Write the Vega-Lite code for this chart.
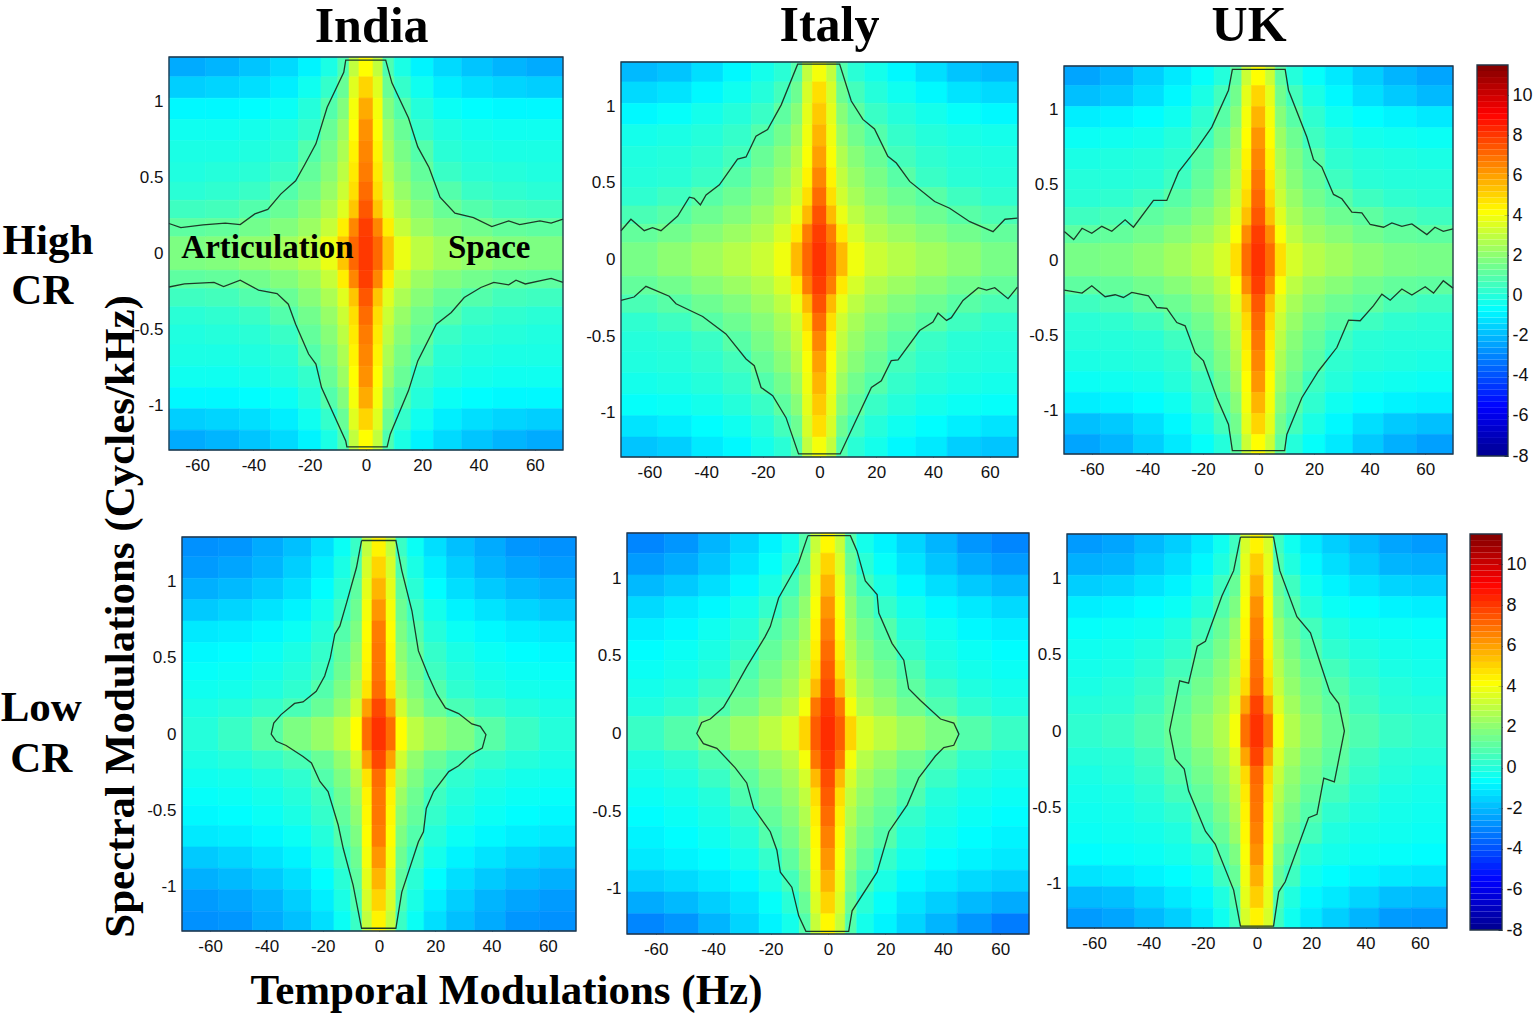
{
"$schema":"https://vega.github.io/schema/vega-lite/v6.json",
"width":1535,"height":1017,"padding":0,"autosize":"none","background":"white",
"config":{"view":{"stroke":null},"axis":{"grid":false,"labelFont":"Liberation Sans","labelFontSize":17,"labelColor":"#111111","tickColor":"#223344","domain":false,"tickSize":-4}},
"datasets":{
"xb":[{"i":0,"x0":-70,"x1":-57},{"i":1,"x0":-57,"x1":-45},{"i":2,"x0":-45,"x1":-34},{"i":3,"x0":-34,"x1":-24},{"i":4,"x0":-24,"x1":-16},{"i":5,"x0":-16,"x1":-10},{"i":6,"x0":-10,"x1":-6},{"i":7,"x0":-6,"x1":-2.5},{"i":8,"x0":-2.5,"x1":2.5},{"i":9,"x0":2.5,"x1":6},{"i":10,"x0":6,"x1":10},{"i":11,"x0":10,"x1":16},{"i":12,"x0":16,"x1":24},{"i":13,"x0":24,"x1":34},{"i":14,"x0":34,"x1":45},{"i":15,"x0":45,"x1":57},{"i":16,"x0":57,"x1":70}],
"yb":[{"j":0,"y0":1.16,"y1":1.29},{"j":1,"y0":1.02,"y1":1.16},{"j":2,"y0":0.88,"y1":1.02},{"j":3,"y0":0.74,"y1":0.88},{"j":4,"y0":0.6,"y1":0.74},{"j":5,"y0":0.47,"y1":0.6},{"j":6,"y0":0.35,"y1":0.47},{"j":7,"y0":0.23,"y1":0.35},{"j":8,"y0":0.11,"y1":0.23},{"j":9,"y0":-0.11,"y1":0.11},{"j":10,"y0":-0.23,"y1":-0.11},{"j":11,"y0":-0.35,"y1":-0.23},{"j":12,"y0":-0.47,"y1":-0.35},{"j":13,"y0":-0.6,"y1":-0.47},{"j":14,"y0":-0.74,"y1":-0.6},{"j":15,"y0":-0.88,"y1":-0.74},{"j":16,"y0":-1.02,"y1":-0.88},{"j":17,"y0":-1.16,"y1":-1.02},{"j":18,"y0":-1.29,"y1":-1.16}],
"fr":[{"x0":-70,"x1":70,"y0":-1.29,"y1":1.29}],
"cf":[{"x0":0,"x1":1,"a":-8,"b":11.5}],
"cb":[{"a":-8,"b":-7.7,"v":-7.85},{"a":-7.7,"b":-7.4,"v":-7.55},{"a":-7.4,"b":-7.1,"v":-7.25},{"a":-7.1,"b":-6.8,"v":-6.95},{"a":-6.8,"b":-6.5,"v":-6.65},{"a":-6.5,"b":-6.2,"v":-6.35},{"a":-6.2,"b":-5.9,"v":-6.05},{"a":-5.9,"b":-5.6,"v":-5.75},{"a":-5.6,"b":-5.3,"v":-5.45},{"a":-5.3,"b":-5,"v":-5.15},{"a":-5,"b":-4.7,"v":-4.85},{"a":-4.7,"b":-4.4,"v":-4.55},{"a":-4.4,"b":-4.1,"v":-4.25},{"a":-4.1,"b":-3.8,"v":-3.95},{"a":-3.8,"b":-3.5,"v":-3.65},{"a":-3.5,"b":-3.2,"v":-3.35},{"a":-3.2,"b":-2.9,"v":-3.05},{"a":-2.9,"b":-2.6,"v":-2.75},{"a":-2.6,"b":-2.3,"v":-2.45},{"a":-2.3,"b":-2,"v":-2.15},{"a":-2,"b":-1.7,"v":-1.85},{"a":-1.7,"b":-1.4,"v":-1.55},{"a":-1.4,"b":-1.1,"v":-1.25},{"a":-1.1,"b":-0.8,"v":-0.95},{"a":-0.8,"b":-0.5,"v":-0.65},{"a":-0.5,"b":-0.2,"v":-0.35},{"a":-0.2,"b":0.1,"v":-0.05},{"a":0.1,"b":0.4,"v":0.25},{"a":0.4,"b":0.7,"v":0.55},{"a":0.7,"b":1,"v":0.85},{"a":1,"b":1.3,"v":1.15},{"a":1.3,"b":1.6,"v":1.45},{"a":1.6,"b":1.9,"v":1.75},{"a":1.9,"b":2.2,"v":2.05},{"a":2.2,"b":2.5,"v":2.35},{"a":2.5,"b":2.8,"v":2.65},{"a":2.8,"b":3.1,"v":2.95},{"a":3.1,"b":3.4,"v":3.25},{"a":3.4,"b":3.7,"v":3.55},{"a":3.7,"b":4,"v":3.85},{"a":4,"b":4.3,"v":4.15},{"a":4.3,"b":4.6,"v":4.45},{"a":4.6,"b":4.9,"v":4.75},{"a":4.9,"b":5.2,"v":5.05},{"a":5.2,"b":5.5,"v":5.35},{"a":5.5,"b":5.8,"v":5.65},{"a":5.8,"b":6.1,"v":5.95},{"a":6.1,"b":6.4,"v":6.25},{"a":6.4,"b":6.7,"v":6.55},{"a":6.7,"b":7,"v":6.85},{"a":7,"b":7.3,"v":7.15},{"a":7.3,"b":7.6,"v":7.45},{"a":7.6,"b":7.9,"v":7.75},{"a":7.9,"b":8.2,"v":8.05},{"a":8.2,"b":8.5,"v":8.35},{"a":8.5,"b":8.8,"v":8.65},{"a":8.8,"b":9.1,"v":8.95},{"a":9.1,"b":9.4,"v":9.25},{"a":9.4,"b":9.7,"v":9.55},{"a":9.7,"b":10,"v":9.85},{"a":10,"b":10.3,"v":10.15},{"a":10.3,"b":10.6,"v":10.45},{"a":10.6,"b":10.9,"v":10.75},{"a":10.9,"b":11.2,"v":11.05},{"a":11.2,"b":11.5,"v":11.35}],
"la":[{"k":0,"x":-70,"y":0.197},{"k":0,"x":-65.8,"y":0.17},{"k":0,"x":-57.9,"y":0.188},{"k":0,"x":-50,"y":0.2},{"k":0,"x":-44.7,"y":0.19},{"k":0,"x":-39.5,"y":0.26},{"k":0,"x":-34.9,"y":0.29},{"k":0,"x":-30.3,"y":0.39},{"k":0,"x":-25,"y":0.477},{"k":0,"x":-21.7,"y":0.586},{"k":0,"x":-17.8,"y":0.72},{"k":0,"x":-13.8,"y":0.96},{"k":0,"x":-7.9,"y":1.19},{"k":0,"x":-7.2,"y":1.27},{"k":0,"x":7,"y":1.27},{"k":0,"x":9.2,"y":1.12},{"k":0,"x":15.1,"y":0.89},{"k":0,"x":18.4,"y":0.7},{"k":0,"x":22.4,"y":0.565},{"k":0,"x":26.3,"y":0.37},{"k":0,"x":31.6,"y":0.265},{"k":0,"x":38.2,"y":0.236},{"k":0,"x":44.7,"y":0.177},{"k":0,"x":50.7,"y":0.214},{"k":0,"x":54.6,"y":0.19},{"k":0,"x":61.8,"y":0.214},{"k":0,"x":65.8,"y":0.2},{"k":0,"x":70,"y":0.225},
{"k":1,"x":-70,"y":-0.22},{"k":1,"x":-64.5,"y":-0.2},{"k":1,"x":-54,"y":-0.19},{"k":1,"x":-50.6,"y":-0.217},{"k":1,"x":-44.7,"y":-0.175},{"k":1,"x":-38.2,"y":-0.24},{"k":1,"x":-31.6,"y":-0.263},{"k":1,"x":-27.6,"y":-0.333},{"k":1,"x":-25,"y":-0.464},{"k":1,"x":-20.4,"y":-0.66},{"k":1,"x":-17.8,"y":-0.726},{"k":1,"x":-15.8,"y":-0.88},{"k":1,"x":-7.2,"y":-1.23},{"k":1,"x":-6.8,"y":-1.27},{"k":1,"x":7.5,"y":-1.27},{"k":1,"x":8.6,"y":-1.186},{"k":1,"x":15.1,"y":-0.9},{"k":1,"x":18.4,"y":-0.705},{"k":1,"x":25,"y":-0.464},{"k":1,"x":30.3,"y":-0.387},{"k":1,"x":34.9,"y":-0.289},{"k":1,"x":40.8,"y":-0.223},{"k":1,"x":45.4,"y":-0.19},{"k":1,"x":50.7,"y":-0.206},{"k":1,"x":53.3,"y":-0.175},{"k":1,"x":56.6,"y":-0.2},{"k":1,"x":65.8,"y":-0.164},{"k":1,"x":70,"y":-0.19}],
"lb":[{"k":0,"x":-70,"y":0.188},{"k":0,"x":-66.5,"y":0.263},{"k":0,"x":-61.8,"y":0.188},{"k":0,"x":-58.9,"y":0.208},{"k":0,"x":-55.9,"y":0.188},{"k":0,"x":-50,"y":0.284},{"k":0,"x":-45.9,"y":0.407},{"k":0,"x":-44.2,"y":0.4},{"k":0,"x":-42,"y":0.357},{"k":0,"x":-40,"y":0.422},{"k":0,"x":-35.3,"y":0.488},{"k":0,"x":-28.9,"y":0.656},{"k":0,"x":-25.9,"y":0.67},{"k":0,"x":-22.4,"y":0.805},{"k":0,"x":-18.3,"y":0.849},{"k":0,"x":-13.5,"y":1.01},{"k":0,"x":-7.7,"y":1.276},{"k":0,"x":7.1,"y":1.276},{"k":0,"x":11.2,"y":1.035},{"k":0,"x":15.3,"y":0.915},{"k":0,"x":19.4,"y":0.853},{"k":0,"x":24.1,"y":0.674},{"k":0,"x":27.1,"y":0.63},{"k":0,"x":31.8,"y":0.51},{"k":0,"x":40.6,"y":0.379},{"k":0,"x":45.9,"y":0.335},{"k":0,"x":53,"y":0.247},{"k":0,"x":61.2,"y":0.182},{"k":0,"x":65.4,"y":0.263},{"k":0,"x":69.8,"y":0.27},
{"k":1,"x":-70,"y":-0.267},{"k":1,"x":-65.4,"y":-0.245},{"k":1,"x":-61.2,"y":-0.175},{"k":1,"x":-53,"y":-0.24},{"k":1,"x":-50.6,"y":-0.289},{"k":1,"x":-41.2,"y":-0.372},{"k":1,"x":-33,"y":-0.486},{"k":1,"x":-25.9,"y":-0.65},{"k":1,"x":-23,"y":-0.694},{"k":1,"x":-20.6,"y":-0.836},{"k":1,"x":-16.5,"y":-0.89},{"k":1,"x":-11.8,"y":-1.033},{"k":1,"x":-7.4,"y":-1.27},{"k":1,"x":7.3,"y":-1.27},{"k":1,"x":18.3,"y":-0.836},{"k":1,"x":21.8,"y":-0.792},{"k":1,"x":25.3,"y":-0.661},{"k":1,"x":27.7,"y":-0.656},{"k":1,"x":35.3,"y":-0.464},{"k":1,"x":40,"y":-0.409},{"k":1,"x":41.8,"y":-0.35},{"k":1,"x":44.8,"y":-0.398},{"k":1,"x":46.5,"y":-0.38},{"k":1,"x":50.6,"y":-0.267},{"k":1,"x":56,"y":-0.184},{"k":1,"x":58.9,"y":-0.2},{"k":1,"x":61.8,"y":-0.184},{"k":1,"x":66.5,"y":-0.256},{"k":1,"x":69.8,"y":-0.18}],
"lc":[{"k":0,"x":-69.9,"y":0.189},{"k":0,"x":-66.5,"y":0.136},{"k":0,"x":-63.5,"y":0.211},{"k":0,"x":-60,"y":0.178},{"k":0,"x":-56.4,"y":0.224},{"k":0,"x":-52.8,"y":0.191},{"k":0,"x":-48,"y":0.267},{"k":0,"x":-45,"y":0.218},{"k":0,"x":-37.8,"y":0.396},{"k":0,"x":-33,"y":0.396},{"k":0,"x":-28.8,"y":0.584},{"k":0,"x":-22.2,"y":0.74},{"k":0,"x":-16.8,"y":0.884},{"k":0,"x":-10.8,"y":1.129},{"k":0,"x":-9.4,"y":1.267},{"k":0,"x":9.6,"y":1.267},{"k":0,"x":10.8,"y":1.129},{"k":0,"x":17.4,"y":0.818},{"k":0,"x":19.8,"y":0.667},{"k":0,"x":22.8,"y":0.618},{"k":0,"x":27,"y":0.436},{"k":0,"x":30,"y":0.407},{"k":0,"x":33.6,"y":0.318},{"k":0,"x":37.2,"y":0.313},{"k":0,"x":40.2,"y":0.236},{"k":0,"x":45,"y":0.218},{"k":0,"x":48,"y":0.247},{"k":0,"x":51.6,"y":0.224},{"k":0,"x":55.2,"y":0.24},{"k":0,"x":60.6,"y":0.169},{"k":0,"x":63.5,"y":0.218},{"k":0,"x":66.5,"y":0.191},{"k":0,"x":70,"y":0.207},
{"k":1,"x":-69.9,"y":-0.2},{"k":1,"x":-63.5,"y":-0.22},{"k":1,"x":-60,"y":-0.171},{"k":1,"x":-55.2,"y":-0.244},{"k":1,"x":-51.6,"y":-0.231},{"k":1,"x":-48.6,"y":-0.249},{"k":1,"x":-45.6,"y":-0.216},{"k":1,"x":-39.6,"y":-0.238},{"k":1,"x":-36.6,"y":-0.316},{"k":1,"x":-33,"y":-0.322},{"k":1,"x":-29.4,"y":-0.416},{"k":1,"x":-26.4,"y":-0.438},{"k":1,"x":-22.8,"y":-0.616},{"k":1,"x":-19.8,"y":-0.671},{"k":1,"x":-15,"y":-0.916},{"k":1,"x":-10.8,"y":-1.093},{"k":1,"x":-9.4,"y":-1.267},{"k":1,"x":9.4,"y":-1.267},{"k":1,"x":10.2,"y":-1.16},{"k":1,"x":15.6,"y":-0.916},{"k":1,"x":21.6,"y":-0.738},{"k":1,"x":28.2,"y":-0.582},{"k":1,"x":32.4,"y":-0.4},{"k":1,"x":36.6,"y":-0.404},{"k":1,"x":41.4,"y":-0.304},{"k":1,"x":44.4,"y":-0.227},{"k":1,"x":47.4,"y":-0.267},{"k":1,"x":51.6,"y":-0.193},{"k":1,"x":55.2,"y":-0.233},{"k":1,"x":60,"y":-0.178},{"k":1,"x":63,"y":-0.22},{"k":1,"x":66.5,"y":-0.138},{"k":1,"x":70,"y":-0.187}],
"ld":[{"x":-6.2,"y":1.267},{"x":-8,"y":1.09},{"x":-11.5,"y":0.86},{"x":-13.9,"y":0.708},{"x":-15.7,"y":0.654},{"x":-17.3,"y":0.5},{"x":-19.3,"y":0.38},{"x":-22.3,"y":0.28},{"x":-27,"y":0.21},{"x":-30,"y":0.2},{"x":-34.8,"y":0.127},{"x":-37.4,"y":0.072},{"x":-38.3,"y":0},{"x":-36.5,"y":-0.048},{"x":-33,"y":-0.075},{"x":-27,"y":-0.147},{"x":-24,"y":-0.19},{"x":-21,"y":-0.311},{"x":-18.1,"y":-0.377},{"x":-14.5,"y":-0.596},{"x":-12.7,"y":-0.75},{"x":-9.2,"y":-0.99},{"x":-6.2,"y":-1.272},{"x":6,"y":-1.272},{"x":8.1,"y":-1.035},{"x":14,"y":-0.706},{"x":15.8,"y":-0.64},{"x":16.8,"y":-0.487},{"x":19.4,"y":-0.377},{"x":24.8,"y":-0.246},{"x":28.3,"y":-0.208},{"x":32.5,"y":-0.136},{"x":36.7,"y":-0.092},{"x":38,"y":-0.004},{"x":36,"y":0.05},{"x":33,"y":0.066},{"x":28.3,"y":0.134},{"x":23.6,"y":0.171},{"x":20.6,"y":0.259},{"x":17.6,"y":0.38},{"x":14,"y":0.544},{"x":11.7,"y":0.807},{"x":8.1,"y":1.07},{"x":6,"y":1.267},{"x":-6.2,"y":1.267}],
"le":[{"x":-7,"y":1.273},{"x":-10.2,"y":1.1},{"x":-17.2,"y":0.872},{"x":-20.1,"y":0.688},{"x":-21.9,"y":0.623},{"x":-28.3,"y":0.429},{"x":-32.9,"y":0.277},{"x":-36.4,"y":0.169},{"x":-41,"y":0.093},{"x":-44,"y":0.071},{"x":-45.7,"y":0},{"x":-43.4,"y":-0.065},{"x":-38.7,"y":-0.095},{"x":-32.3,"y":-0.221},{"x":-28.3,"y":-0.318},{"x":-25.9,"y":-0.481},{"x":-20.1,"y":-0.632},{"x":-17.8,"y":-0.751},{"x":-16.6,"y":-0.892},{"x":-12.6,"y":-0.989},{"x":-10.2,"y":-1.173},{"x":-7.7,"y":-1.273},{"x":7.2,"y":-1.273},{"x":8.4,"y":-1.141},{"x":17.1,"y":-0.892},{"x":21.2,"y":-0.632},{"x":27.6,"y":-0.459},{"x":31.6,"y":-0.286},{"x":37.4,"y":-0.145},{"x":40.3,"y":-0.091},{"x":43.8,"y":-0.076},{"x":45.6,"y":-0.004},{"x":43.8,"y":0.067},{"x":39.2,"y":0.093},{"x":32.2,"y":0.212},{"x":28.1,"y":0.288},{"x":26.4,"y":0.472},{"x":22.3,"y":0.58},{"x":17.7,"y":0.775},{"x":17.1,"y":0.894},{"x":13,"y":0.981},{"x":10.1,"y":1.175},{"x":7.8,"y":1.273},{"x":-7,"y":1.273}],
"lf":[{"x":-6.1,"y":1.27},{"x":-8.6,"y":1.05},{"x":-12.9,"y":0.885},{"x":-19,"y":0.588},{"x":-22,"y":0.555},{"x":-25.2,"y":0.313},{"x":-28.5,"y":0.328},{"x":-32.2,"y":0.004},{"x":-30.1,"y":-0.183},{"x":-26.8,"y":-0.249},{"x":-25.2,"y":-0.392},{"x":-19,"y":-0.656},{"x":-15.4,"y":-0.74},{"x":-8.6,"y":-1.042},{"x":-6.1,"y":-1.278},{"x":6.1,"y":-1.278},{"x":8,"y":-1.053},{"x":10.4,"y":-0.987},{"x":19,"y":-0.568},{"x":22.1,"y":-0.546},{"x":24.6,"y":-0.308},{"x":28.5,"y":-0.333},{"x":32.2,"y":0},{"x":30.1,"y":0.18},{"x":26.8,"y":0.258},{"x":23.3,"y":0.445},{"x":19.7,"y":0.643},{"x":14.7,"y":0.749},{"x":8.4,"y":1.05},{"x":6.1,"y":1.27},{"x":-6.1,"y":1.27}],
"ha":[
{"i":0,"j":0,"v":-2.3},{"i":1,"j":0,"v":-2.1},{"i":2,"j":0,"v":-1.8},{"i":3,"j":0,"v":-1.4},{"i":4,"j":0,"v":-0.9},{"i":5,"j":0,"v":-0.2},{"i":6,"j":0,"v":0.8},{"i":7,"j":0,"v":3},{"i":8,"j":0,"v":4.2},{"i":9,"j":0,"v":3},{"i":10,"j":0,"v":0.8},{"i":11,"j":0,"v":-0.2},{"i":12,"j":0,"v":-0.9},{"i":13,"j":0,"v":-1.4},{"i":14,"j":0,"v":-1.8},{"i":15,"j":0,"v":-2.1},{"i":16,"j":0,"v":-2.3},
{"i":0,"j":1,"v":-1.6},{"i":1,"j":1,"v":-1.5},{"i":2,"j":1,"v":-1.3},{"i":3,"j":1,"v":-1},{"i":4,"j":1,"v":-0.4},{"i":5,"j":1,"v":0.3},{"i":6,"j":1,"v":1.3},{"i":7,"j":1,"v":3.6},{"i":8,"j":1,"v":5},{"i":9,"j":1,"v":3.6},{"i":10,"j":1,"v":1.3},{"i":11,"j":1,"v":0.3},{"i":12,"j":1,"v":-0.4},{"i":13,"j":1,"v":-1},{"i":14,"j":1,"v":-1.3},{"i":15,"j":1,"v":-1.5},{"i":16,"j":1,"v":-1.6},
{"i":0,"j":2,"v":-0.8},{"i":1,"j":2,"v":-0.8},{"i":2,"j":2,"v":-0.7},{"i":3,"j":2,"v":-0.5},{"i":4,"j":2,"v":0},{"i":5,"j":2,"v":0.9},{"i":6,"j":2,"v":1.8},{"i":7,"j":2,"v":4},{"i":8,"j":2,"v":5.8},{"i":9,"j":2,"v":4},{"i":10,"j":2,"v":1.8},{"i":11,"j":2,"v":0.9},{"i":12,"j":2,"v":0},{"i":13,"j":2,"v":-0.5},{"i":14,"j":2,"v":-0.7},{"i":15,"j":2,"v":-0.8},{"i":16,"j":2,"v":-0.8},
{"i":0,"j":3,"v":-0.4},{"i":1,"j":3,"v":-0.4},{"i":2,"j":3,"v":-0.3},{"i":3,"j":3,"v":-0.1},{"i":4,"j":3,"v":0.3},{"i":5,"j":3,"v":1.3},{"i":6,"j":3,"v":2.3},{"i":7,"j":3,"v":4.2},{"i":8,"j":3,"v":6.3},{"i":9,"j":3,"v":4.2},{"i":10,"j":3,"v":2.3},{"i":11,"j":3,"v":1.3},{"i":12,"j":3,"v":0.3},{"i":13,"j":3,"v":-0.1},{"i":14,"j":3,"v":-0.3},{"i":15,"j":3,"v":-0.4},{"i":16,"j":3,"v":-0.4},
{"i":0,"j":4,"v":-0.2},{"i":1,"j":4,"v":-0.2},{"i":2,"j":4,"v":-0.1},{"i":3,"j":4,"v":0.1},{"i":4,"j":4,"v":0.9},{"i":5,"j":4,"v":1.6},{"i":6,"j":4,"v":2.6},{"i":7,"j":4,"v":4.4},{"i":8,"j":4,"v":6.5},{"i":9,"j":4,"v":4.4},{"i":10,"j":4,"v":2.6},{"i":11,"j":4,"v":1.6},{"i":12,"j":4,"v":0.9},{"i":13,"j":4,"v":0.1},{"i":14,"j":4,"v":-0.1},{"i":15,"j":4,"v":-0.2},{"i":16,"j":4,"v":-0.2},
{"i":0,"j":5,"v":-0.1},{"i":1,"j":5,"v":0},{"i":2,"j":5,"v":0.1},{"i":3,"j":5,"v":0.4},{"i":4,"j":5,"v":1.2},{"i":5,"j":5,"v":1.9},{"i":6,"j":5,"v":2.9},{"i":7,"j":5,"v":4.6},{"i":8,"j":5,"v":6.7},{"i":9,"j":5,"v":4.6},{"i":10,"j":5,"v":2.9},{"i":11,"j":5,"v":1.9},{"i":12,"j":5,"v":1.2},{"i":13,"j":5,"v":0.4},{"i":14,"j":5,"v":0.1},{"i":15,"j":5,"v":0},{"i":16,"j":5,"v":-0.1},
{"i":0,"j":6,"v":0.1},{"i":1,"j":6,"v":0.2},{"i":2,"j":6,"v":0.4},{"i":3,"j":6,"v":0.9},{"i":4,"j":6,"v":1.5},{"i":5,"j":6,"v":2.2},{"i":6,"j":6,"v":3.2},{"i":7,"j":6,"v":4.8},{"i":8,"j":6,"v":7},{"i":9,"j":6,"v":4.8},{"i":10,"j":6,"v":3.2},{"i":11,"j":6,"v":2.2},{"i":12,"j":6,"v":1.5},{"i":13,"j":6,"v":0.9},{"i":14,"j":6,"v":0.4},{"i":15,"j":6,"v":0.2},{"i":16,"j":6,"v":0.1},
{"i":0,"j":7,"v":0.5},{"i":1,"j":7,"v":0.6},{"i":2,"j":7,"v":0.9},{"i":3,"j":7,"v":1.3},{"i":4,"j":7,"v":1.9},{"i":5,"j":7,"v":2.6},{"i":6,"j":7,"v":3.6},{"i":7,"j":7,"v":5.3},{"i":8,"j":7,"v":7.4},{"i":9,"j":7,"v":5.3},{"i":10,"j":7,"v":3.6},{"i":11,"j":7,"v":2.6},{"i":12,"j":7,"v":1.9},{"i":13,"j":7,"v":1.3},{"i":14,"j":7,"v":0.9},{"i":15,"j":7,"v":0.6},{"i":16,"j":7,"v":0.5},
{"i":0,"j":8,"v":1.1},{"i":1,"j":8,"v":1.2},{"i":2,"j":8,"v":1.5},{"i":3,"j":8,"v":1.8},{"i":4,"j":8,"v":2.3},{"i":5,"j":8,"v":3.1},{"i":6,"j":8,"v":4.5},{"i":7,"j":8,"v":6.5},{"i":8,"j":8,"v":7.9},{"i":9,"j":8,"v":6.5},{"i":10,"j":8,"v":4.5},{"i":11,"j":8,"v":3.1},{"i":12,"j":8,"v":2.3},{"i":13,"j":8,"v":1.8},{"i":14,"j":8,"v":1.5},{"i":15,"j":8,"v":1.2},{"i":16,"j":8,"v":1.1},
{"i":0,"j":9,"v":1.7},{"i":1,"j":9,"v":1.8},{"i":2,"j":9,"v":2.1},{"i":3,"j":9,"v":2.4},{"i":4,"j":9,"v":2.9},{"i":5,"j":9,"v":3.8},{"i":6,"j":9,"v":5.3},{"i":7,"j":9,"v":7.1},{"i":8,"j":9,"v":8},{"i":9,"j":9,"v":7.1},{"i":10,"j":9,"v":5.3},{"i":11,"j":9,"v":3.8},{"i":12,"j":9,"v":2.9},{"i":13,"j":9,"v":2.4},{"i":14,"j":9,"v":2.1},{"i":15,"j":9,"v":1.8},{"i":16,"j":9,"v":1.7},
{"i":0,"j":10,"v":1.1},{"i":1,"j":10,"v":1.2},{"i":2,"j":10,"v":1.5},{"i":3,"j":10,"v":1.8},{"i":4,"j":10,"v":2.3},{"i":5,"j":10,"v":3.1},{"i":6,"j":10,"v":4.5},{"i":7,"j":10,"v":6.5},{"i":8,"j":10,"v":7.9},{"i":9,"j":10,"v":6.5},{"i":10,"j":10,"v":4.5},{"i":11,"j":10,"v":3.1},{"i":12,"j":10,"v":2.3},{"i":13,"j":10,"v":1.8},{"i":14,"j":10,"v":1.5},{"i":15,"j":10,"v":1.2},{"i":16,"j":10,"v":1.1},
{"i":0,"j":11,"v":0.5},{"i":1,"j":11,"v":0.6},{"i":2,"j":11,"v":0.9},{"i":3,"j":11,"v":1.3},{"i":4,"j":11,"v":1.9},{"i":5,"j":11,"v":2.6},{"i":6,"j":11,"v":3.6},{"i":7,"j":11,"v":5.3},{"i":8,"j":11,"v":7.4},{"i":9,"j":11,"v":5.3},{"i":10,"j":11,"v":3.6},{"i":11,"j":11,"v":2.6},{"i":12,"j":11,"v":1.9},{"i":13,"j":11,"v":1.3},{"i":14,"j":11,"v":0.9},{"i":15,"j":11,"v":0.6},{"i":16,"j":11,"v":0.5},
{"i":0,"j":12,"v":0.1},{"i":1,"j":12,"v":0.2},{"i":2,"j":12,"v":0.4},{"i":3,"j":12,"v":0.9},{"i":4,"j":12,"v":1.5},{"i":5,"j":12,"v":2.2},{"i":6,"j":12,"v":3.2},{"i":7,"j":12,"v":4.8},{"i":8,"j":12,"v":7},{"i":9,"j":12,"v":4.8},{"i":10,"j":12,"v":3.2},{"i":11,"j":12,"v":2.2},{"i":12,"j":12,"v":1.5},{"i":13,"j":12,"v":0.9},{"i":14,"j":12,"v":0.4},{"i":15,"j":12,"v":0.2},{"i":16,"j":12,"v":0.1},
{"i":0,"j":13,"v":-0.1},{"i":1,"j":13,"v":0},{"i":2,"j":13,"v":0.1},{"i":3,"j":13,"v":0.4},{"i":4,"j":13,"v":1.2},{"i":5,"j":13,"v":1.9},{"i":6,"j":13,"v":2.9},{"i":7,"j":13,"v":4.6},{"i":8,"j":13,"v":6.7},{"i":9,"j":13,"v":4.6},{"i":10,"j":13,"v":2.9},{"i":11,"j":13,"v":1.9},{"i":12,"j":13,"v":1.2},{"i":13,"j":13,"v":0.4},{"i":14,"j":13,"v":0.1},{"i":15,"j":13,"v":0},{"i":16,"j":13,"v":-0.1},
{"i":0,"j":14,"v":-0.2},{"i":1,"j":14,"v":-0.2},{"i":2,"j":14,"v":-0.1},{"i":3,"j":14,"v":0.1},{"i":4,"j":14,"v":0.9},{"i":5,"j":14,"v":1.6},{"i":6,"j":14,"v":2.6},{"i":7,"j":14,"v":4.4},{"i":8,"j":14,"v":6.5},{"i":9,"j":14,"v":4.4},{"i":10,"j":14,"v":2.6},{"i":11,"j":14,"v":1.6},{"i":12,"j":14,"v":0.9},{"i":13,"j":14,"v":0.1},{"i":14,"j":14,"v":-0.1},{"i":15,"j":14,"v":-0.2},{"i":16,"j":14,"v":-0.2},
{"i":0,"j":15,"v":-0.4},{"i":1,"j":15,"v":-0.4},{"i":2,"j":15,"v":-0.3},{"i":3,"j":15,"v":-0.1},{"i":4,"j":15,"v":0.3},{"i":5,"j":15,"v":1.3},{"i":6,"j":15,"v":2.3},{"i":7,"j":15,"v":4.2},{"i":8,"j":15,"v":6.3},{"i":9,"j":15,"v":4.2},{"i":10,"j":15,"v":2.3},{"i":11,"j":15,"v":1.3},{"i":12,"j":15,"v":0.3},{"i":13,"j":15,"v":-0.1},{"i":14,"j":15,"v":-0.3},{"i":15,"j":15,"v":-0.4},{"i":16,"j":15,"v":-0.4},
{"i":0,"j":16,"v":-0.8},{"i":1,"j":16,"v":-0.8},{"i":2,"j":16,"v":-0.7},{"i":3,"j":16,"v":-0.5},{"i":4,"j":16,"v":0},{"i":5,"j":16,"v":0.9},{"i":6,"j":16,"v":1.8},{"i":7,"j":16,"v":4},{"i":8,"j":16,"v":5.8},{"i":9,"j":16,"v":4},{"i":10,"j":16,"v":1.8},{"i":11,"j":16,"v":0.9},{"i":12,"j":16,"v":0},{"i":13,"j":16,"v":-0.5},{"i":14,"j":16,"v":-0.7},{"i":15,"j":16,"v":-0.8},{"i":16,"j":16,"v":-0.8},
{"i":0,"j":17,"v":-1.6},{"i":1,"j":17,"v":-1.5},{"i":2,"j":17,"v":-1.3},{"i":3,"j":17,"v":-1},{"i":4,"j":17,"v":-0.4},{"i":5,"j":17,"v":0.3},{"i":6,"j":17,"v":1.3},{"i":7,"j":17,"v":3.6},{"i":8,"j":17,"v":5},{"i":9,"j":17,"v":3.6},{"i":10,"j":17,"v":1.3},{"i":11,"j":17,"v":0.3},{"i":12,"j":17,"v":-0.4},{"i":13,"j":17,"v":-1},{"i":14,"j":17,"v":-1.3},{"i":15,"j":17,"v":-1.5},{"i":16,"j":17,"v":-1.6},
{"i":0,"j":18,"v":-2.3},{"i":1,"j":18,"v":-2.1},{"i":2,"j":18,"v":-1.8},{"i":3,"j":18,"v":-1.4},{"i":4,"j":18,"v":-0.9},{"i":5,"j":18,"v":-0.2},{"i":6,"j":18,"v":0.8},{"i":7,"j":18,"v":3},{"i":8,"j":18,"v":4.2},{"i":9,"j":18,"v":3},{"i":10,"j":18,"v":0.8},{"i":11,"j":18,"v":-0.2},{"i":12,"j":18,"v":-0.9},{"i":13,"j":18,"v":-1.4},{"i":14,"j":18,"v":-1.8},{"i":15,"j":18,"v":-2.1},{"i":16,"j":18,"v":-2.3}],
"hb":[
{"i":0,"j":0,"v":-2},{"i":1,"j":0,"v":-1.8},{"i":2,"j":0,"v":-1.3},{"i":3,"j":0,"v":-0.8},{"i":4,"j":0,"v":-0.3},{"i":5,"j":0,"v":0.1},{"i":6,"j":0,"v":0.9},{"i":7,"j":0,"v":3},{"i":8,"j":0,"v":4},{"i":9,"j":0,"v":3},{"i":10,"j":0,"v":0.9},{"i":11,"j":0,"v":0.1},{"i":12,"j":0,"v":-0.3},{"i":13,"j":0,"v":-0.8},{"i":14,"j":0,"v":-1.3},{"i":15,"j":0,"v":-1.8},{"i":16,"j":0,"v":-2},
{"i":0,"j":1,"v":-1.4},{"i":1,"j":1,"v":-1.2},{"i":2,"j":1,"v":-0.8},{"i":3,"j":1,"v":-0.4},{"i":4,"j":1,"v":0},{"i":5,"j":1,"v":0.6},{"i":6,"j":1,"v":1.4},{"i":7,"j":1,"v":3.4},{"i":8,"j":1,"v":4.8},{"i":9,"j":1,"v":3.4},{"i":10,"j":1,"v":1.4},{"i":11,"j":1,"v":0.6},{"i":12,"j":1,"v":0},{"i":13,"j":1,"v":-0.4},{"i":14,"j":1,"v":-0.8},{"i":15,"j":1,"v":-1.2},{"i":16,"j":1,"v":-1.4},
{"i":0,"j":2,"v":-0.8},{"i":1,"j":2,"v":-0.6},{"i":2,"j":2,"v":-0.3},{"i":3,"j":2,"v":0},{"i":4,"j":2,"v":0.4},{"i":5,"j":2,"v":1.1},{"i":6,"j":2,"v":1.9},{"i":7,"j":2,"v":3.7},{"i":8,"j":2,"v":5.2},{"i":9,"j":2,"v":3.7},{"i":10,"j":2,"v":1.9},{"i":11,"j":2,"v":1.1},{"i":12,"j":2,"v":0.4},{"i":13,"j":2,"v":0},{"i":14,"j":2,"v":-0.3},{"i":15,"j":2,"v":-0.6},{"i":16,"j":2,"v":-0.8},
{"i":0,"j":3,"v":-0.3},{"i":1,"j":3,"v":-0.2},{"i":2,"j":3,"v":0},{"i":3,"j":3,"v":0.3},{"i":4,"j":3,"v":0.9},{"i":5,"j":3,"v":1.5},{"i":6,"j":3,"v":2.3},{"i":7,"j":3,"v":3.9},{"i":8,"j":3,"v":5.6},{"i":9,"j":3,"v":3.9},{"i":10,"j":3,"v":2.3},{"i":11,"j":3,"v":1.5},{"i":12,"j":3,"v":0.9},{"i":13,"j":3,"v":0.3},{"i":14,"j":3,"v":0},{"i":15,"j":3,"v":-0.2},{"i":16,"j":3,"v":-0.3},
{"i":0,"j":4,"v":-0.1},{"i":1,"j":4,"v":0},{"i":2,"j":4,"v":0.2},{"i":3,"j":4,"v":0.6},{"i":4,"j":4,"v":1.3},{"i":5,"j":4,"v":1.9},{"i":6,"j":4,"v":2.7},{"i":7,"j":4,"v":4.1},{"i":8,"j":4,"v":6},{"i":9,"j":4,"v":4.1},{"i":10,"j":4,"v":2.7},{"i":11,"j":4,"v":1.9},{"i":12,"j":4,"v":1.3},{"i":13,"j":4,"v":0.6},{"i":14,"j":4,"v":0.2},{"i":15,"j":4,"v":0},{"i":16,"j":4,"v":-0.1},
{"i":0,"j":5,"v":0},{"i":1,"j":5,"v":0.1},{"i":2,"j":5,"v":0.4},{"i":3,"j":5,"v":1},{"i":4,"j":5,"v":1.6},{"i":5,"j":5,"v":2.2},{"i":6,"j":5,"v":3},{"i":7,"j":5,"v":4.4},{"i":8,"j":5,"v":6.5},{"i":9,"j":5,"v":4.4},{"i":10,"j":5,"v":3},{"i":11,"j":5,"v":2.2},{"i":12,"j":5,"v":1.6},{"i":13,"j":5,"v":1},{"i":14,"j":5,"v":0.4},{"i":15,"j":5,"v":0.1},{"i":16,"j":5,"v":0},
{"i":0,"j":6,"v":0.2},{"i":1,"j":6,"v":0.5},{"i":2,"j":6,"v":1},{"i":3,"j":6,"v":1.4},{"i":4,"j":6,"v":1.9},{"i":5,"j":6,"v":2.5},{"i":6,"j":6,"v":3.3},{"i":7,"j":6,"v":4.8},{"i":8,"j":6,"v":7},{"i":9,"j":6,"v":4.8},{"i":10,"j":6,"v":3.3},{"i":11,"j":6,"v":2.5},{"i":12,"j":6,"v":1.9},{"i":13,"j":6,"v":1.4},{"i":14,"j":6,"v":1},{"i":15,"j":6,"v":0.5},{"i":16,"j":6,"v":0.2},
{"i":0,"j":7,"v":0.7},{"i":1,"j":7,"v":1},{"i":2,"j":7,"v":1.4},{"i":3,"j":7,"v":1.8},{"i":4,"j":7,"v":2.3},{"i":5,"j":7,"v":2.9},{"i":6,"j":7,"v":3.8},{"i":7,"j":7,"v":5.5},{"i":8,"j":7,"v":7.5},{"i":9,"j":7,"v":5.5},{"i":10,"j":7,"v":3.8},{"i":11,"j":7,"v":2.9},{"i":12,"j":7,"v":2.3},{"i":13,"j":7,"v":1.8},{"i":14,"j":7,"v":1.4},{"i":15,"j":7,"v":1},{"i":16,"j":7,"v":0.7},
{"i":0,"j":8,"v":1.2},{"i":1,"j":8,"v":1.5},{"i":2,"j":8,"v":1.9},{"i":3,"j":8,"v":2.3},{"i":4,"j":8,"v":2.7},{"i":5,"j":8,"v":3.4},{"i":6,"j":8,"v":4.6},{"i":7,"j":8,"v":6.7},{"i":8,"j":8,"v":7.9},{"i":9,"j":8,"v":6.7},{"i":10,"j":8,"v":4.6},{"i":11,"j":8,"v":3.4},{"i":12,"j":8,"v":2.7},{"i":13,"j":8,"v":2.3},{"i":14,"j":8,"v":1.9},{"i":15,"j":8,"v":1.5},{"i":16,"j":8,"v":1.2},
{"i":0,"j":9,"v":1.6},{"i":1,"j":9,"v":2},{"i":2,"j":9,"v":2.4},{"i":3,"j":9,"v":2.8},{"i":4,"j":9,"v":3.2},{"i":5,"j":9,"v":3.9},{"i":6,"j":9,"v":5.5},{"i":7,"j":9,"v":7.1},{"i":8,"j":9,"v":8.1},{"i":9,"j":9,"v":7.1},{"i":10,"j":9,"v":5.5},{"i":11,"j":9,"v":3.9},{"i":12,"j":9,"v":3.2},{"i":13,"j":9,"v":2.8},{"i":14,"j":9,"v":2.4},{"i":15,"j":9,"v":2},{"i":16,"j":9,"v":1.6},
{"i":0,"j":10,"v":1.2},{"i":1,"j":10,"v":1.5},{"i":2,"j":10,"v":1.9},{"i":3,"j":10,"v":2.3},{"i":4,"j":10,"v":2.7},{"i":5,"j":10,"v":3.4},{"i":6,"j":10,"v":4.6},{"i":7,"j":10,"v":6.7},{"i":8,"j":10,"v":7.9},{"i":9,"j":10,"v":6.7},{"i":10,"j":10,"v":4.6},{"i":11,"j":10,"v":3.4},{"i":12,"j":10,"v":2.7},{"i":13,"j":10,"v":2.3},{"i":14,"j":10,"v":1.9},{"i":15,"j":10,"v":1.5},{"i":16,"j":10,"v":1.2},
{"i":0,"j":11,"v":0.7},{"i":1,"j":11,"v":1},{"i":2,"j":11,"v":1.4},{"i":3,"j":11,"v":1.8},{"i":4,"j":11,"v":2.3},{"i":5,"j":11,"v":2.9},{"i":6,"j":11,"v":3.8},{"i":7,"j":11,"v":5.5},{"i":8,"j":11,"v":7.5},{"i":9,"j":11,"v":5.5},{"i":10,"j":11,"v":3.8},{"i":11,"j":11,"v":2.9},{"i":12,"j":11,"v":2.3},{"i":13,"j":11,"v":1.8},{"i":14,"j":11,"v":1.4},{"i":15,"j":11,"v":1},{"i":16,"j":11,"v":0.7},
{"i":0,"j":12,"v":0.2},{"i":1,"j":12,"v":0.5},{"i":2,"j":12,"v":1},{"i":3,"j":12,"v":1.4},{"i":4,"j":12,"v":1.9},{"i":5,"j":12,"v":2.5},{"i":6,"j":12,"v":3.3},{"i":7,"j":12,"v":4.8},{"i":8,"j":12,"v":7},{"i":9,"j":12,"v":4.8},{"i":10,"j":12,"v":3.3},{"i":11,"j":12,"v":2.5},{"i":12,"j":12,"v":1.9},{"i":13,"j":12,"v":1.4},{"i":14,"j":12,"v":1},{"i":15,"j":12,"v":0.5},{"i":16,"j":12,"v":0.2},
{"i":0,"j":13,"v":0},{"i":1,"j":13,"v":0.1},{"i":2,"j":13,"v":0.4},{"i":3,"j":13,"v":1},{"i":4,"j":13,"v":1.6},{"i":5,"j":13,"v":2.2},{"i":6,"j":13,"v":3},{"i":7,"j":13,"v":4.4},{"i":8,"j":13,"v":6.5},{"i":9,"j":13,"v":4.4},{"i":10,"j":13,"v":3},{"i":11,"j":13,"v":2.2},{"i":12,"j":13,"v":1.6},{"i":13,"j":13,"v":1},{"i":14,"j":13,"v":0.4},{"i":15,"j":13,"v":0.1},{"i":16,"j":13,"v":0},
{"i":0,"j":14,"v":-0.1},{"i":1,"j":14,"v":0},{"i":2,"j":14,"v":0.2},{"i":3,"j":14,"v":0.6},{"i":4,"j":14,"v":1.3},{"i":5,"j":14,"v":1.9},{"i":6,"j":14,"v":2.7},{"i":7,"j":14,"v":4.1},{"i":8,"j":14,"v":6},{"i":9,"j":14,"v":4.1},{"i":10,"j":14,"v":2.7},{"i":11,"j":14,"v":1.9},{"i":12,"j":14,"v":1.3},{"i":13,"j":14,"v":0.6},{"i":14,"j":14,"v":0.2},{"i":15,"j":14,"v":0},{"i":16,"j":14,"v":-0.1},
{"i":0,"j":15,"v":-0.3},{"i":1,"j":15,"v":-0.2},{"i":2,"j":15,"v":0},{"i":3,"j":15,"v":0.3},{"i":4,"j":15,"v":0.9},{"i":5,"j":15,"v":1.5},{"i":6,"j":15,"v":2.3},{"i":7,"j":15,"v":3.9},{"i":8,"j":15,"v":5.6},{"i":9,"j":15,"v":3.9},{"i":10,"j":15,"v":2.3},{"i":11,"j":15,"v":1.5},{"i":12,"j":15,"v":0.9},{"i":13,"j":15,"v":0.3},{"i":14,"j":15,"v":0},{"i":15,"j":15,"v":-0.2},{"i":16,"j":15,"v":-0.3},
{"i":0,"j":16,"v":-0.6},{"i":1,"j":16,"v":-0.5},{"i":2,"j":16,"v":-0.3},{"i":3,"j":16,"v":0},{"i":4,"j":16,"v":0.4},{"i":5,"j":16,"v":1.1},{"i":6,"j":16,"v":1.9},{"i":7,"j":16,"v":3.7},{"i":8,"j":16,"v":5.2},{"i":9,"j":16,"v":3.7},{"i":10,"j":16,"v":1.9},{"i":11,"j":16,"v":1.1},{"i":12,"j":16,"v":0.4},{"i":13,"j":16,"v":0},{"i":14,"j":16,"v":-0.3},{"i":15,"j":16,"v":-0.5},{"i":16,"j":16,"v":-0.6},
{"i":0,"j":17,"v":-1.2},{"i":1,"j":17,"v":-1},{"i":2,"j":17,"v":-0.7},{"i":3,"j":17,"v":-0.4},{"i":4,"j":17,"v":0},{"i":5,"j":17,"v":0.6},{"i":6,"j":17,"v":1.4},{"i":7,"j":17,"v":3.4},{"i":8,"j":17,"v":4.8},{"i":9,"j":17,"v":3.4},{"i":10,"j":17,"v":1.4},{"i":11,"j":17,"v":0.6},{"i":12,"j":17,"v":0},{"i":13,"j":17,"v":-0.4},{"i":14,"j":17,"v":-0.7},{"i":15,"j":17,"v":-1},{"i":16,"j":17,"v":-1.2},
{"i":0,"j":18,"v":-1.8},{"i":1,"j":18,"v":-1.6},{"i":2,"j":18,"v":-1.1},{"i":3,"j":18,"v":-0.8},{"i":4,"j":18,"v":-0.3},{"i":5,"j":18,"v":0.1},{"i":6,"j":18,"v":0.9},{"i":7,"j":18,"v":3},{"i":8,"j":18,"v":4},{"i":9,"j":18,"v":3},{"i":10,"j":18,"v":0.9},{"i":11,"j":18,"v":0.1},{"i":12,"j":18,"v":-0.3},{"i":13,"j":18,"v":-0.8},{"i":14,"j":18,"v":-1.1},{"i":15,"j":18,"v":-1.6},{"i":16,"j":18,"v":-1.8}],
"hc":[
{"i":0,"j":0,"v":-2.4},{"i":1,"j":0,"v":-2.1},{"i":2,"j":0,"v":-1.6},{"i":3,"j":0,"v":-1.1},{"i":4,"j":0,"v":-0.6},{"i":5,"j":0,"v":0},{"i":6,"j":0,"v":1.1},{"i":7,"j":0,"v":3.2},{"i":8,"j":0,"v":4.2},{"i":9,"j":0,"v":3.2},{"i":10,"j":0,"v":1.1},{"i":11,"j":0,"v":0},{"i":12,"j":0,"v":-0.6},{"i":13,"j":0,"v":-1.1},{"i":14,"j":0,"v":-1.6},{"i":15,"j":0,"v":-2.1},{"i":16,"j":0,"v":-2.4},
{"i":0,"j":1,"v":-1.9},{"i":1,"j":1,"v":-1.7},{"i":2,"j":1,"v":-1.3},{"i":3,"j":1,"v":-0.8},{"i":4,"j":1,"v":-0.2},{"i":5,"j":1,"v":0.6},{"i":6,"j":1,"v":1.5},{"i":7,"j":1,"v":3.7},{"i":8,"j":1,"v":5},{"i":9,"j":1,"v":3.7},{"i":10,"j":1,"v":1.5},{"i":11,"j":1,"v":0.6},{"i":12,"j":1,"v":-0.2},{"i":13,"j":1,"v":-0.8},{"i":14,"j":1,"v":-1.3},{"i":15,"j":1,"v":-1.7},{"i":16,"j":1,"v":-2},
{"i":0,"j":2,"v":-1},{"i":1,"j":2,"v":-0.9},{"i":2,"j":2,"v":-0.7},{"i":3,"j":2,"v":-0.4},{"i":4,"j":2,"v":0.2},{"i":5,"j":2,"v":1},{"i":6,"j":2,"v":1.9},{"i":7,"j":2,"v":4},{"i":8,"j":2,"v":5.6},{"i":9,"j":2,"v":4},{"i":10,"j":2,"v":1.9},{"i":11,"j":2,"v":1},{"i":12,"j":2,"v":0.2},{"i":13,"j":2,"v":-0.4},{"i":14,"j":2,"v":-0.7},{"i":15,"j":2,"v":-0.9},{"i":16,"j":2,"v":-1.1},
{"i":0,"j":3,"v":-0.5},{"i":1,"j":3,"v":-0.4},{"i":2,"j":3,"v":-0.3},{"i":3,"j":3,"v":0},{"i":4,"j":3,"v":0.5},{"i":5,"j":3,"v":1.4},{"i":6,"j":3,"v":2.3},{"i":7,"j":3,"v":4.2},{"i":8,"j":3,"v":6.2},{"i":9,"j":3,"v":4.2},{"i":10,"j":3,"v":2.3},{"i":11,"j":3,"v":1.4},{"i":12,"j":3,"v":0.5},{"i":13,"j":3,"v":0},{"i":14,"j":3,"v":-0.3},{"i":15,"j":3,"v":-0.4},{"i":16,"j":3,"v":-0.5},
{"i":0,"j":4,"v":-0.2},{"i":1,"j":4,"v":-0.1},{"i":2,"j":4,"v":0},{"i":3,"j":4,"v":0.2},{"i":4,"j":4,"v":1},{"i":5,"j":4,"v":1.7},{"i":6,"j":4,"v":2.6},{"i":7,"j":4,"v":4.4},{"i":8,"j":4,"v":6.5},{"i":9,"j":4,"v":4.4},{"i":10,"j":4,"v":2.6},{"i":11,"j":4,"v":1.7},{"i":12,"j":4,"v":1},{"i":13,"j":4,"v":0.2},{"i":14,"j":4,"v":0},{"i":15,"j":4,"v":-0.1},{"i":16,"j":4,"v":-0.2},
{"i":0,"j":5,"v":0},{"i":1,"j":5,"v":0},{"i":2,"j":5,"v":0.1},{"i":3,"j":5,"v":0.5},{"i":4,"j":5,"v":1.2},{"i":5,"j":5,"v":1.9},{"i":6,"j":5,"v":2.9},{"i":7,"j":5,"v":4.6},{"i":8,"j":5,"v":6.8},{"i":9,"j":5,"v":4.6},{"i":10,"j":5,"v":2.9},{"i":11,"j":5,"v":1.9},{"i":12,"j":5,"v":1.2},{"i":13,"j":5,"v":0.5},{"i":14,"j":5,"v":0.1},{"i":15,"j":5,"v":0},{"i":16,"j":5,"v":0},
{"i":0,"j":6,"v":0.1},{"i":1,"j":6,"v":0.2},{"i":2,"j":6,"v":0.5},{"i":3,"j":6,"v":1},{"i":4,"j":6,"v":1.5},{"i":5,"j":6,"v":2.2},{"i":6,"j":6,"v":3.2},{"i":7,"j":6,"v":4.9},{"i":8,"j":6,"v":7.1},{"i":9,"j":6,"v":4.9},{"i":10,"j":6,"v":3.2},{"i":11,"j":6,"v":2.2},{"i":12,"j":6,"v":1.5},{"i":13,"j":6,"v":1},{"i":14,"j":6,"v":0.5},{"i":15,"j":6,"v":0.2},{"i":16,"j":6,"v":0.1},
{"i":0,"j":7,"v":0.5},{"i":1,"j":7,"v":0.7},{"i":2,"j":7,"v":1.1},{"i":3,"j":7,"v":1.4},{"i":4,"j":7,"v":1.9},{"i":5,"j":7,"v":2.5},{"i":6,"j":7,"v":3.6},{"i":7,"j":7,"v":5.4},{"i":8,"j":7,"v":7.4},{"i":9,"j":7,"v":5.4},{"i":10,"j":7,"v":3.6},{"i":11,"j":7,"v":2.5},{"i":12,"j":7,"v":1.9},{"i":13,"j":7,"v":1.4},{"i":14,"j":7,"v":1.1},{"i":15,"j":7,"v":0.7},{"i":16,"j":7,"v":0.5},
{"i":0,"j":8,"v":1.1},{"i":1,"j":8,"v":1.2},{"i":2,"j":8,"v":1.5},{"i":3,"j":8,"v":1.9},{"i":4,"j":8,"v":2.3},{"i":5,"j":8,"v":2.9},{"i":6,"j":8,"v":4.1},{"i":7,"j":8,"v":6.4},{"i":8,"j":8,"v":7.9},{"i":9,"j":8,"v":6.4},{"i":10,"j":8,"v":4.1},{"i":11,"j":8,"v":2.9},{"i":12,"j":8,"v":2.3},{"i":13,"j":8,"v":1.9},{"i":14,"j":8,"v":1.5},{"i":15,"j":8,"v":1.2},{"i":16,"j":8,"v":1.1},
{"i":0,"j":9,"v":1.6},{"i":1,"j":9,"v":1.7},{"i":2,"j":9,"v":2},{"i":3,"j":9,"v":2.4},{"i":4,"j":9,"v":2.8},{"i":5,"j":9,"v":3.4},{"i":6,"j":9,"v":4.8},{"i":7,"j":9,"v":7},{"i":8,"j":9,"v":8.1},{"i":9,"j":9,"v":7},{"i":10,"j":9,"v":4.8},{"i":11,"j":9,"v":3.4},{"i":12,"j":9,"v":2.8},{"i":13,"j":9,"v":2.4},{"i":14,"j":9,"v":2},{"i":15,"j":9,"v":1.7},{"i":16,"j":9,"v":1.6},
{"i":0,"j":10,"v":1.1},{"i":1,"j":10,"v":1.2},{"i":2,"j":10,"v":1.5},{"i":3,"j":10,"v":1.9},{"i":4,"j":10,"v":2.3},{"i":5,"j":10,"v":2.9},{"i":6,"j":10,"v":4.1},{"i":7,"j":10,"v":6.4},{"i":8,"j":10,"v":7.9},{"i":9,"j":10,"v":6.4},{"i":10,"j":10,"v":4.1},{"i":11,"j":10,"v":2.9},{"i":12,"j":10,"v":2.3},{"i":13,"j":10,"v":1.9},{"i":14,"j":10,"v":1.5},{"i":15,"j":10,"v":1.2},{"i":16,"j":10,"v":1.1},
{"i":0,"j":11,"v":0.5},{"i":1,"j":11,"v":0.7},{"i":2,"j":11,"v":1.1},{"i":3,"j":11,"v":1.4},{"i":4,"j":11,"v":1.9},{"i":5,"j":11,"v":2.5},{"i":6,"j":11,"v":3.6},{"i":7,"j":11,"v":5.4},{"i":8,"j":11,"v":7.4},{"i":9,"j":11,"v":5.4},{"i":10,"j":11,"v":3.6},{"i":11,"j":11,"v":2.5},{"i":12,"j":11,"v":1.9},{"i":13,"j":11,"v":1.4},{"i":14,"j":11,"v":1.1},{"i":15,"j":11,"v":0.7},{"i":16,"j":11,"v":0.5},
{"i":0,"j":12,"v":0.1},{"i":1,"j":12,"v":0.2},{"i":2,"j":12,"v":0.5},{"i":3,"j":12,"v":1},{"i":4,"j":12,"v":1.5},{"i":5,"j":12,"v":2.2},{"i":6,"j":12,"v":3.2},{"i":7,"j":12,"v":4.9},{"i":8,"j":12,"v":7.1},{"i":9,"j":12,"v":4.9},{"i":10,"j":12,"v":3.2},{"i":11,"j":12,"v":2.2},{"i":12,"j":12,"v":1.5},{"i":13,"j":12,"v":1},{"i":14,"j":12,"v":0.5},{"i":15,"j":12,"v":0.2},{"i":16,"j":12,"v":0.1},
{"i":0,"j":13,"v":0},{"i":1,"j":13,"v":0},{"i":2,"j":13,"v":0.1},{"i":3,"j":13,"v":0.5},{"i":4,"j":13,"v":1.2},{"i":5,"j":13,"v":1.9},{"i":6,"j":13,"v":2.9},{"i":7,"j":13,"v":4.6},{"i":8,"j":13,"v":6.8},{"i":9,"j":13,"v":4.6},{"i":10,"j":13,"v":2.9},{"i":11,"j":13,"v":1.9},{"i":12,"j":13,"v":1.2},{"i":13,"j":13,"v":0.5},{"i":14,"j":13,"v":0.1},{"i":15,"j":13,"v":0},{"i":16,"j":13,"v":0},
{"i":0,"j":14,"v":-0.2},{"i":1,"j":14,"v":-0.1},{"i":2,"j":14,"v":0},{"i":3,"j":14,"v":0.2},{"i":4,"j":14,"v":1},{"i":5,"j":14,"v":1.7},{"i":6,"j":14,"v":2.6},{"i":7,"j":14,"v":4.4},{"i":8,"j":14,"v":6.5},{"i":9,"j":14,"v":4.4},{"i":10,"j":14,"v":2.6},{"i":11,"j":14,"v":1.7},{"i":12,"j":14,"v":1},{"i":13,"j":14,"v":0.2},{"i":14,"j":14,"v":0},{"i":15,"j":14,"v":-0.1},{"i":16,"j":14,"v":-0.2},
{"i":0,"j":15,"v":-0.5},{"i":1,"j":15,"v":-0.4},{"i":2,"j":15,"v":-0.3},{"i":3,"j":15,"v":0},{"i":4,"j":15,"v":0.5},{"i":5,"j":15,"v":1.4},{"i":6,"j":15,"v":2.3},{"i":7,"j":15,"v":4.2},{"i":8,"j":15,"v":6.2},{"i":9,"j":15,"v":4.2},{"i":10,"j":15,"v":2.3},{"i":11,"j":15,"v":1.4},{"i":12,"j":15,"v":0.5},{"i":13,"j":15,"v":0},{"i":14,"j":15,"v":-0.3},{"i":15,"j":15,"v":-0.4},{"i":16,"j":15,"v":-0.5},
{"i":0,"j":16,"v":-1},{"i":1,"j":16,"v":-0.9},{"i":2,"j":16,"v":-0.7},{"i":3,"j":16,"v":-0.4},{"i":4,"j":16,"v":0.2},{"i":5,"j":16,"v":1},{"i":6,"j":16,"v":1.9},{"i":7,"j":16,"v":4},{"i":8,"j":16,"v":5.6},{"i":9,"j":16,"v":4},{"i":10,"j":16,"v":1.9},{"i":11,"j":16,"v":1},{"i":12,"j":16,"v":0.2},{"i":13,"j":16,"v":-0.4},{"i":14,"j":16,"v":-0.7},{"i":15,"j":16,"v":-0.9},{"i":16,"j":16,"v":-1},
{"i":0,"j":17,"v":-1.9},{"i":1,"j":17,"v":-1.7},{"i":2,"j":17,"v":-1.3},{"i":3,"j":17,"v":-0.8},{"i":4,"j":17,"v":-0.2},{"i":5,"j":17,"v":0.6},{"i":6,"j":17,"v":1.5},{"i":7,"j":17,"v":3.7},{"i":8,"j":17,"v":5},{"i":9,"j":17,"v":3.7},{"i":10,"j":17,"v":1.5},{"i":11,"j":17,"v":0.6},{"i":12,"j":17,"v":-0.2},{"i":13,"j":17,"v":-0.8},{"i":14,"j":17,"v":-1.3},{"i":15,"j":17,"v":-1.7},{"i":16,"j":17,"v":-1.9},
{"i":0,"j":18,"v":-2.4},{"i":1,"j":18,"v":-2.1},{"i":2,"j":18,"v":-1.6},{"i":3,"j":18,"v":-1.1},{"i":4,"j":18,"v":-0.6},{"i":5,"j":18,"v":0},{"i":6,"j":18,"v":1.1},{"i":7,"j":18,"v":3.2},{"i":8,"j":18,"v":4.2},{"i":9,"j":18,"v":3.2},{"i":10,"j":18,"v":1.1},{"i":11,"j":18,"v":0},{"i":12,"j":18,"v":-0.6},{"i":13,"j":18,"v":-1.1},{"i":14,"j":18,"v":-1.7},{"i":15,"j":18,"v":-2.2},{"i":16,"j":18,"v":-2.5}],
"hd":[
{"i":0,"j":0,"v":-2.8},{"i":1,"j":0,"v":-2.7},{"i":2,"j":0,"v":-2.3},{"i":3,"j":0,"v":-1.9},{"i":4,"j":0,"v":-1.3},{"i":5,"j":0,"v":-0.5},{"i":6,"j":0,"v":0.4},{"i":7,"j":0,"v":3},{"i":8,"j":0,"v":4.4},{"i":9,"j":0,"v":3},{"i":10,"j":0,"v":0.4},{"i":11,"j":0,"v":-0.5},{"i":12,"j":0,"v":-1.3},{"i":13,"j":0,"v":-1.9},{"i":14,"j":0,"v":-2.3},{"i":15,"j":0,"v":-2.7},{"i":16,"j":0,"v":-2.8},
{"i":0,"j":1,"v":-2.6},{"i":1,"j":1,"v":-2.4},{"i":2,"j":1,"v":-2.1},{"i":3,"j":1,"v":-1.6},{"i":4,"j":1,"v":-1},{"i":5,"j":1,"v":-0.2},{"i":6,"j":1,"v":0.8},{"i":7,"j":1,"v":3.4},{"i":8,"j":1,"v":5},{"i":9,"j":1,"v":3.4},{"i":10,"j":1,"v":0.8},{"i":11,"j":1,"v":-0.2},{"i":12,"j":1,"v":-1},{"i":13,"j":1,"v":-1.6},{"i":14,"j":1,"v":-2.1},{"i":15,"j":1,"v":-2.4},{"i":16,"j":1,"v":-2.6},
{"i":0,"j":2,"v":-2.2},{"i":1,"j":2,"v":-2},{"i":2,"j":2,"v":-1.7},{"i":3,"j":2,"v":-1.3},{"i":4,"j":2,"v":-0.7},{"i":5,"j":2,"v":0.1},{"i":6,"j":2,"v":1.1},{"i":7,"j":2,"v":3.7},{"i":8,"j":2,"v":5.6},{"i":9,"j":2,"v":3.7},{"i":10,"j":2,"v":1.1},{"i":11,"j":2,"v":0.1},{"i":12,"j":2,"v":-0.7},{"i":13,"j":2,"v":-1.3},{"i":14,"j":2,"v":-1.7},{"i":15,"j":2,"v":-2},{"i":16,"j":2,"v":-2.2},
{"i":0,"j":3,"v":-1.7},{"i":1,"j":3,"v":-1.5},{"i":2,"j":3,"v":-1.2},{"i":3,"j":3,"v":-0.9},{"i":4,"j":3,"v":-0.3},{"i":5,"j":3,"v":0.5},{"i":6,"j":3,"v":1.4},{"i":7,"j":3,"v":4},{"i":8,"j":3,"v":6.2},{"i":9,"j":3,"v":4},{"i":10,"j":3,"v":1.4},{"i":11,"j":3,"v":0.5},{"i":12,"j":3,"v":-0.3},{"i":13,"j":3,"v":-0.9},{"i":14,"j":3,"v":-1.2},{"i":15,"j":3,"v":-1.5},{"i":16,"j":3,"v":-1.7},
{"i":0,"j":4,"v":-1.1},{"i":1,"j":4,"v":-1},{"i":2,"j":4,"v":-0.8},{"i":3,"j":4,"v":-0.5},{"i":4,"j":4,"v":0},{"i":5,"j":4,"v":0.9},{"i":6,"j":4,"v":1.7},{"i":7,"j":4,"v":4.2},{"i":8,"j":4,"v":6.7},{"i":9,"j":4,"v":4.2},{"i":10,"j":4,"v":1.7},{"i":11,"j":4,"v":0.9},{"i":12,"j":4,"v":0},{"i":13,"j":4,"v":-0.5},{"i":14,"j":4,"v":-0.8},{"i":15,"j":4,"v":-1},{"i":16,"j":4,"v":-1.1},
{"i":0,"j":5,"v":-0.8},{"i":1,"j":5,"v":-0.7},{"i":2,"j":5,"v":-0.5},{"i":3,"j":5,"v":-0.2},{"i":4,"j":5,"v":0.3},{"i":5,"j":5,"v":1.2},{"i":6,"j":5,"v":2},{"i":7,"j":5,"v":4.3},{"i":8,"j":5,"v":6.8},{"i":9,"j":5,"v":4.3},{"i":10,"j":5,"v":2},{"i":11,"j":5,"v":1.2},{"i":12,"j":5,"v":0.3},{"i":13,"j":5,"v":-0.2},{"i":14,"j":5,"v":-0.5},{"i":15,"j":5,"v":-0.7},{"i":16,"j":5,"v":-0.8},
{"i":0,"j":6,"v":-0.6},{"i":1,"j":6,"v":-0.5},{"i":2,"j":6,"v":-0.3},{"i":3,"j":6,"v":0},{"i":4,"j":6,"v":0.5},{"i":5,"j":6,"v":1.4},{"i":6,"j":6,"v":2.3},{"i":7,"j":6,"v":4.4},{"i":8,"j":6,"v":6.8},{"i":9,"j":6,"v":4.4},{"i":10,"j":6,"v":2.3},{"i":11,"j":6,"v":1.4},{"i":12,"j":6,"v":0.5},{"i":13,"j":6,"v":0},{"i":14,"j":6,"v":-0.3},{"i":15,"j":6,"v":-0.5},{"i":16,"j":6,"v":-0.6},
{"i":0,"j":7,"v":-0.4},{"i":1,"j":7,"v":-0.3},{"i":2,"j":7,"v":-0.1},{"i":3,"j":7,"v":0.2},{"i":4,"j":7,"v":0.9},{"i":5,"j":7,"v":1.7},{"i":6,"j":7,"v":2.7},{"i":7,"j":7,"v":4.7},{"i":8,"j":7,"v":7},{"i":9,"j":7,"v":4.7},{"i":10,"j":7,"v":2.7},{"i":11,"j":7,"v":1.7},{"i":12,"j":7,"v":0.9},{"i":13,"j":7,"v":0.2},{"i":14,"j":7,"v":-0.1},{"i":15,"j":7,"v":-0.3},{"i":16,"j":7,"v":-0.4},
{"i":0,"j":8,"v":-0.2},{"i":1,"j":8,"v":0},{"i":2,"j":8,"v":0.3},{"i":3,"j":8,"v":0.7},{"i":4,"j":8,"v":1.3},{"i":5,"j":8,"v":2.1},{"i":6,"j":8,"v":3.3},{"i":7,"j":8,"v":6},{"i":8,"j":8,"v":7.7},{"i":9,"j":8,"v":6},{"i":10,"j":8,"v":3.3},{"i":11,"j":8,"v":2.1},{"i":12,"j":8,"v":1.3},{"i":13,"j":8,"v":0.7},{"i":14,"j":8,"v":0.3},{"i":15,"j":8,"v":0},{"i":16,"j":8,"v":-0.2},
{"i":0,"j":9,"v":0},{"i":1,"j":9,"v":0.4},{"i":2,"j":9,"v":1},{"i":3,"j":9,"v":1.7},{"i":4,"j":9,"v":2.2},{"i":5,"j":9,"v":2.9},{"i":6,"j":9,"v":4.2},{"i":7,"j":9,"v":7},{"i":8,"j":9,"v":8.1},{"i":9,"j":9,"v":7},{"i":10,"j":9,"v":4.2},{"i":11,"j":9,"v":2.9},{"i":12,"j":9,"v":2.2},{"i":13,"j":9,"v":1.7},{"i":14,"j":9,"v":1},{"i":15,"j":9,"v":0.4},{"i":16,"j":9,"v":0},
{"i":0,"j":10,"v":-0.2},{"i":1,"j":10,"v":0},{"i":2,"j":10,"v":0.3},{"i":3,"j":10,"v":0.7},{"i":4,"j":10,"v":1.3},{"i":5,"j":10,"v":2.1},{"i":6,"j":10,"v":3.3},{"i":7,"j":10,"v":6},{"i":8,"j":10,"v":7.7},{"i":9,"j":10,"v":6},{"i":10,"j":10,"v":3.3},{"i":11,"j":10,"v":2.1},{"i":12,"j":10,"v":1.3},{"i":13,"j":10,"v":0.7},{"i":14,"j":10,"v":0.3},{"i":15,"j":10,"v":0},{"i":16,"j":10,"v":-0.2},
{"i":0,"j":11,"v":-0.4},{"i":1,"j":11,"v":-0.3},{"i":2,"j":11,"v":-0.1},{"i":3,"j":11,"v":0.2},{"i":4,"j":11,"v":0.9},{"i":5,"j":11,"v":1.7},{"i":6,"j":11,"v":2.7},{"i":7,"j":11,"v":4.7},{"i":8,"j":11,"v":7},{"i":9,"j":11,"v":4.7},{"i":10,"j":11,"v":2.7},{"i":11,"j":11,"v":1.7},{"i":12,"j":11,"v":0.9},{"i":13,"j":11,"v":0.2},{"i":14,"j":11,"v":-0.1},{"i":15,"j":11,"v":-0.3},{"i":16,"j":11,"v":-0.4},
{"i":0,"j":12,"v":-0.6},{"i":1,"j":12,"v":-0.5},{"i":2,"j":12,"v":-0.3},{"i":3,"j":12,"v":0},{"i":4,"j":12,"v":0.5},{"i":5,"j":12,"v":1.4},{"i":6,"j":12,"v":2.3},{"i":7,"j":12,"v":4.4},{"i":8,"j":12,"v":6.8},{"i":9,"j":12,"v":4.4},{"i":10,"j":12,"v":2.3},{"i":11,"j":12,"v":1.4},{"i":12,"j":12,"v":0.5},{"i":13,"j":12,"v":0},{"i":14,"j":12,"v":-0.3},{"i":15,"j":12,"v":-0.5},{"i":16,"j":12,"v":-0.6},
{"i":0,"j":13,"v":-0.8},{"i":1,"j":13,"v":-0.7},{"i":2,"j":13,"v":-0.5},{"i":3,"j":13,"v":-0.2},{"i":4,"j":13,"v":0.3},{"i":5,"j":13,"v":1.2},{"i":6,"j":13,"v":2},{"i":7,"j":13,"v":4.3},{"i":8,"j":13,"v":6.8},{"i":9,"j":13,"v":4.3},{"i":10,"j":13,"v":2},{"i":11,"j":13,"v":1.2},{"i":12,"j":13,"v":0.3},{"i":13,"j":13,"v":-0.2},{"i":14,"j":13,"v":-0.5},{"i":15,"j":13,"v":-0.7},{"i":16,"j":13,"v":-0.8},
{"i":0,"j":14,"v":-1.1},{"i":1,"j":14,"v":-1},{"i":2,"j":14,"v":-0.8},{"i":3,"j":14,"v":-0.5},{"i":4,"j":14,"v":0},{"i":5,"j":14,"v":0.9},{"i":6,"j":14,"v":1.7},{"i":7,"j":14,"v":4.2},{"i":8,"j":14,"v":6.7},{"i":9,"j":14,"v":4.2},{"i":10,"j":14,"v":1.7},{"i":11,"j":14,"v":0.9},{"i":12,"j":14,"v":0},{"i":13,"j":14,"v":-0.5},{"i":14,"j":14,"v":-0.8},{"i":15,"j":14,"v":-1},{"i":16,"j":14,"v":-1.1},
{"i":0,"j":15,"v":-1.7},{"i":1,"j":15,"v":-1.5},{"i":2,"j":15,"v":-1.2},{"i":3,"j":15,"v":-0.9},{"i":4,"j":15,"v":-0.3},{"i":5,"j":15,"v":0.5},{"i":6,"j":15,"v":1.4},{"i":7,"j":15,"v":4},{"i":8,"j":15,"v":6.2},{"i":9,"j":15,"v":4},{"i":10,"j":15,"v":1.4},{"i":11,"j":15,"v":0.5},{"i":12,"j":15,"v":-0.3},{"i":13,"j":15,"v":-0.9},{"i":14,"j":15,"v":-1.2},{"i":15,"j":15,"v":-1.5},{"i":16,"j":15,"v":-1.7},
{"i":0,"j":16,"v":-2.2},{"i":1,"j":16,"v":-2},{"i":2,"j":16,"v":-1.7},{"i":3,"j":16,"v":-1.3},{"i":4,"j":16,"v":-0.7},{"i":5,"j":16,"v":0.1},{"i":6,"j":16,"v":1.1},{"i":7,"j":16,"v":3.7},{"i":8,"j":16,"v":5.6},{"i":9,"j":16,"v":3.7},{"i":10,"j":16,"v":1.1},{"i":11,"j":16,"v":0.1},{"i":12,"j":16,"v":-0.7},{"i":13,"j":16,"v":-1.3},{"i":14,"j":16,"v":-1.7},{"i":15,"j":16,"v":-2},{"i":16,"j":16,"v":-2.2},
{"i":0,"j":17,"v":-2.6},{"i":1,"j":17,"v":-2.4},{"i":2,"j":17,"v":-2.1},{"i":3,"j":17,"v":-1.6},{"i":4,"j":17,"v":-1},{"i":5,"j":17,"v":-0.2},{"i":6,"j":17,"v":0.8},{"i":7,"j":17,"v":3.4},{"i":8,"j":17,"v":5},{"i":9,"j":17,"v":3.4},{"i":10,"j":17,"v":0.8},{"i":11,"j":17,"v":-0.2},{"i":12,"j":17,"v":-1},{"i":13,"j":17,"v":-1.6},{"i":14,"j":17,"v":-2.1},{"i":15,"j":17,"v":-2.4},{"i":16,"j":17,"v":-2.6},
{"i":0,"j":18,"v":-2.8},{"i":1,"j":18,"v":-2.7},{"i":2,"j":18,"v":-2.3},{"i":3,"j":18,"v":-1.9},{"i":4,"j":18,"v":-1.3},{"i":5,"j":18,"v":-0.5},{"i":6,"j":18,"v":0.4},{"i":7,"j":18,"v":3},{"i":8,"j":18,"v":4.4},{"i":9,"j":18,"v":3},{"i":10,"j":18,"v":0.4},{"i":11,"j":18,"v":-0.5},{"i":12,"j":18,"v":-1.3},{"i":13,"j":18,"v":-1.9},{"i":14,"j":18,"v":-2.3},{"i":15,"j":18,"v":-2.7},{"i":16,"j":18,"v":-2.8}],
"he":[
{"i":0,"j":0,"v":-3},{"i":1,"j":0,"v":-2.7},{"i":2,"j":0,"v":-2.1},{"i":3,"j":0,"v":-1.5},{"i":4,"j":0,"v":-0.9},{"i":5,"j":0,"v":-0.3},{"i":6,"j":0,"v":0.9},{"i":7,"j":0,"v":3.1},{"i":8,"j":0,"v":4.3},{"i":9,"j":0,"v":3.1},{"i":10,"j":0,"v":0.9},{"i":11,"j":0,"v":-0.3},{"i":12,"j":0,"v":-0.9},{"i":13,"j":0,"v":-1.5},{"i":14,"j":0,"v":-2.1},{"i":15,"j":0,"v":-2.7},{"i":16,"j":0,"v":-3},
{"i":0,"j":1,"v":-2.6},{"i":1,"j":1,"v":-2.3},{"i":2,"j":1,"v":-1.8},{"i":3,"j":1,"v":-1.2},{"i":4,"j":1,"v":-0.6},{"i":5,"j":1,"v":0.1},{"i":6,"j":1,"v":1.3},{"i":7,"j":1,"v":3.5},{"i":8,"j":1,"v":5},{"i":9,"j":1,"v":3.5},{"i":10,"j":1,"v":1.3},{"i":11,"j":1,"v":0.1},{"i":12,"j":1,"v":-0.6},{"i":13,"j":1,"v":-1.2},{"i":14,"j":1,"v":-1.8},{"i":15,"j":1,"v":-2.3},{"i":16,"j":1,"v":-2.6},
{"i":0,"j":2,"v":-2},{"i":1,"j":2,"v":-1.7},{"i":2,"j":2,"v":-1.3},{"i":3,"j":2,"v":-0.8},{"i":4,"j":2,"v":-0.2},{"i":5,"j":2,"v":0.6},{"i":6,"j":2,"v":1.7},{"i":7,"j":2,"v":3.8},{"i":8,"j":2,"v":5.6},{"i":9,"j":2,"v":3.8},{"i":10,"j":2,"v":1.7},{"i":11,"j":2,"v":0.6},{"i":12,"j":2,"v":-0.2},{"i":13,"j":2,"v":-0.8},{"i":14,"j":2,"v":-1.3},{"i":15,"j":2,"v":-1.7},{"i":16,"j":2,"v":-2},
{"i":0,"j":3,"v":-1.4},{"i":1,"j":3,"v":-1.1},{"i":2,"j":3,"v":-0.8},{"i":3,"j":3,"v":-0.3},{"i":4,"j":3,"v":0.3},{"i":5,"j":3,"v":1.1},{"i":6,"j":3,"v":2.1},{"i":7,"j":3,"v":4.1},{"i":8,"j":3,"v":6.2},{"i":9,"j":3,"v":4.1},{"i":10,"j":3,"v":2.1},{"i":11,"j":3,"v":1.1},{"i":12,"j":3,"v":0.3},{"i":13,"j":3,"v":-0.3},{"i":14,"j":3,"v":-0.8},{"i":15,"j":3,"v":-1.1},{"i":16,"j":3,"v":-1.4},
{"i":0,"j":4,"v":-1},{"i":1,"j":4,"v":-0.8},{"i":2,"j":4,"v":-0.4},{"i":3,"j":4,"v":0},{"i":4,"j":4,"v":0.9},{"i":5,"j":4,"v":1.5},{"i":6,"j":4,"v":2.4},{"i":7,"j":4,"v":4.3},{"i":8,"j":4,"v":6.6},{"i":9,"j":4,"v":4.3},{"i":10,"j":4,"v":2.4},{"i":11,"j":4,"v":1.5},{"i":12,"j":4,"v":0.9},{"i":13,"j":4,"v":0},{"i":14,"j":4,"v":-0.4},{"i":15,"j":4,"v":-0.8},{"i":16,"j":4,"v":-1},
{"i":0,"j":5,"v":-0.7},{"i":1,"j":5,"v":-0.5},{"i":2,"j":5,"v":-0.2},{"i":3,"j":5,"v":0.3},{"i":4,"j":5,"v":1.2},{"i":5,"j":5,"v":1.8},{"i":6,"j":5,"v":2.7},{"i":7,"j":5,"v":4.5},{"i":8,"j":5,"v":7},{"i":9,"j":5,"v":4.5},{"i":10,"j":5,"v":2.7},{"i":11,"j":5,"v":1.8},{"i":12,"j":5,"v":1.2},{"i":13,"j":5,"v":0.3},{"i":14,"j":5,"v":-0.2},{"i":15,"j":5,"v":-0.5},{"i":16,"j":5,"v":-0.7},
{"i":0,"j":6,"v":-0.5},{"i":1,"j":6,"v":-0.3},{"i":2,"j":6,"v":0},{"i":3,"j":6,"v":0.8},{"i":4,"j":6,"v":1.5},{"i":5,"j":6,"v":2.1},{"i":6,"j":6,"v":3},{"i":7,"j":6,"v":4.8},{"i":8,"j":6,"v":7.3},{"i":9,"j":6,"v":4.8},{"i":10,"j":6,"v":3},{"i":11,"j":6,"v":2.1},{"i":12,"j":6,"v":1.5},{"i":13,"j":6,"v":0.8},{"i":14,"j":6,"v":0},{"i":15,"j":6,"v":-0.3},{"i":16,"j":6,"v":-0.5},
{"i":0,"j":7,"v":-0.3},{"i":1,"j":7,"v":-0.1},{"i":2,"j":7,"v":0.4},{"i":3,"j":7,"v":1.1},{"i":4,"j":7,"v":1.8},{"i":5,"j":7,"v":2.4},{"i":6,"j":7,"v":3.4},{"i":7,"j":7,"v":5.5},{"i":8,"j":7,"v":7.6},{"i":9,"j":7,"v":5.5},{"i":10,"j":7,"v":3.4},{"i":11,"j":7,"v":2.4},{"i":12,"j":7,"v":1.8},{"i":13,"j":7,"v":1.1},{"i":14,"j":7,"v":0.4},{"i":15,"j":7,"v":-0.1},{"i":16,"j":7,"v":-0.3},
{"i":0,"j":8,"v":-0.1},{"i":1,"j":8,"v":0.2},{"i":2,"j":8,"v":0.8},{"i":3,"j":8,"v":1.5},{"i":4,"j":8,"v":2.2},{"i":5,"j":8,"v":2.8},{"i":6,"j":8,"v":4},{"i":7,"j":8,"v":6.8},{"i":8,"j":8,"v":8},{"i":9,"j":8,"v":6.8},{"i":10,"j":8,"v":4},{"i":11,"j":8,"v":2.8},{"i":12,"j":8,"v":2.2},{"i":13,"j":8,"v":1.5},{"i":14,"j":8,"v":0.8},{"i":15,"j":8,"v":0.2},{"i":16,"j":8,"v":-0.1},
{"i":0,"j":9,"v":0.4},{"i":1,"j":9,"v":0.9},{"i":2,"j":9,"v":1.7},{"i":3,"j":9,"v":2.3},{"i":4,"j":9,"v":2.9},{"i":5,"j":9,"v":3.5},{"i":6,"j":9,"v":5},{"i":7,"j":9,"v":7.3},{"i":8,"j":9,"v":8.2},{"i":9,"j":9,"v":7.3},{"i":10,"j":9,"v":5},{"i":11,"j":9,"v":3.5},{"i":12,"j":9,"v":2.9},{"i":13,"j":9,"v":2.3},{"i":14,"j":9,"v":1.7},{"i":15,"j":9,"v":0.9},{"i":16,"j":9,"v":0.4},
{"i":0,"j":10,"v":-0.1},{"i":1,"j":10,"v":0.2},{"i":2,"j":10,"v":0.8},{"i":3,"j":10,"v":1.5},{"i":4,"j":10,"v":2.2},{"i":5,"j":10,"v":2.8},{"i":6,"j":10,"v":4},{"i":7,"j":10,"v":6.8},{"i":8,"j":10,"v":8},{"i":9,"j":10,"v":6.8},{"i":10,"j":10,"v":4},{"i":11,"j":10,"v":2.8},{"i":12,"j":10,"v":2.2},{"i":13,"j":10,"v":1.5},{"i":14,"j":10,"v":0.8},{"i":15,"j":10,"v":0.2},{"i":16,"j":10,"v":-0.1},
{"i":0,"j":11,"v":-0.3},{"i":1,"j":11,"v":-0.1},{"i":2,"j":11,"v":0.4},{"i":3,"j":11,"v":1.1},{"i":4,"j":11,"v":1.8},{"i":5,"j":11,"v":2.4},{"i":6,"j":11,"v":3.4},{"i":7,"j":11,"v":5.5},{"i":8,"j":11,"v":7.6},{"i":9,"j":11,"v":5.5},{"i":10,"j":11,"v":3.4},{"i":11,"j":11,"v":2.4},{"i":12,"j":11,"v":1.8},{"i":13,"j":11,"v":1.1},{"i":14,"j":11,"v":0.4},{"i":15,"j":11,"v":-0.1},{"i":16,"j":11,"v":-0.3},
{"i":0,"j":12,"v":-0.5},{"i":1,"j":12,"v":-0.3},{"i":2,"j":12,"v":0},{"i":3,"j":12,"v":0.8},{"i":4,"j":12,"v":1.5},{"i":5,"j":12,"v":2.1},{"i":6,"j":12,"v":3},{"i":7,"j":12,"v":4.8},{"i":8,"j":12,"v":7.3},{"i":9,"j":12,"v":4.8},{"i":10,"j":12,"v":3},{"i":11,"j":12,"v":2.1},{"i":12,"j":12,"v":1.5},{"i":13,"j":12,"v":0.8},{"i":14,"j":12,"v":0},{"i":15,"j":12,"v":-0.3},{"i":16,"j":12,"v":-0.5},
{"i":0,"j":13,"v":-0.7},{"i":1,"j":13,"v":-0.5},{"i":2,"j":13,"v":-0.2},{"i":3,"j":13,"v":0.3},{"i":4,"j":13,"v":1.2},{"i":5,"j":13,"v":1.8},{"i":6,"j":13,"v":2.7},{"i":7,"j":13,"v":4.5},{"i":8,"j":13,"v":7},{"i":9,"j":13,"v":4.5},{"i":10,"j":13,"v":2.7},{"i":11,"j":13,"v":1.8},{"i":12,"j":13,"v":1.2},{"i":13,"j":13,"v":0.3},{"i":14,"j":13,"v":-0.2},{"i":15,"j":13,"v":-0.5},{"i":16,"j":13,"v":-0.7},
{"i":0,"j":14,"v":-0.9},{"i":1,"j":14,"v":-0.7},{"i":2,"j":14,"v":-0.4},{"i":3,"j":14,"v":0},{"i":4,"j":14,"v":0.9},{"i":5,"j":14,"v":1.5},{"i":6,"j":14,"v":2.4},{"i":7,"j":14,"v":4.3},{"i":8,"j":14,"v":6.6},{"i":9,"j":14,"v":4.3},{"i":10,"j":14,"v":2.4},{"i":11,"j":14,"v":1.5},{"i":12,"j":14,"v":0.9},{"i":13,"j":14,"v":0},{"i":14,"j":14,"v":-0.4},{"i":15,"j":14,"v":-0.7},{"i":16,"j":14,"v":-0.9},
{"i":0,"j":15,"v":-1.1},{"i":1,"j":15,"v":-0.9},{"i":2,"j":15,"v":-0.7},{"i":3,"j":15,"v":-0.3},{"i":4,"j":15,"v":0.3},{"i":5,"j":15,"v":1.1},{"i":6,"j":15,"v":2.1},{"i":7,"j":15,"v":4.1},{"i":8,"j":15,"v":6.2},{"i":9,"j":15,"v":4.1},{"i":10,"j":15,"v":2.1},{"i":11,"j":15,"v":1.1},{"i":12,"j":15,"v":0.3},{"i":13,"j":15,"v":-0.3},{"i":14,"j":15,"v":-0.7},{"i":15,"j":15,"v":-0.9},{"i":16,"j":15,"v":-1.1},
{"i":0,"j":16,"v":-1.6},{"i":1,"j":16,"v":-1.4},{"i":2,"j":16,"v":-1.1},{"i":3,"j":16,"v":-0.8},{"i":4,"j":16,"v":-0.2},{"i":5,"j":16,"v":0.6},{"i":6,"j":16,"v":1.7},{"i":7,"j":16,"v":3.8},{"i":8,"j":16,"v":5.6},{"i":9,"j":16,"v":3.8},{"i":10,"j":16,"v":1.7},{"i":11,"j":16,"v":0.6},{"i":12,"j":16,"v":-0.2},{"i":13,"j":16,"v":-0.8},{"i":14,"j":16,"v":-1.1},{"i":15,"j":16,"v":-1.4},{"i":16,"j":16,"v":-1.6},
{"i":0,"j":17,"v":-2.3},{"i":1,"j":17,"v":-2},{"i":2,"j":17,"v":-1.6},{"i":3,"j":17,"v":-1.2},{"i":4,"j":17,"v":-0.6},{"i":5,"j":17,"v":0.1},{"i":6,"j":17,"v":1.3},{"i":7,"j":17,"v":3.5},{"i":8,"j":17,"v":5},{"i":9,"j":17,"v":3.5},{"i":10,"j":17,"v":1.3},{"i":11,"j":17,"v":0.1},{"i":12,"j":17,"v":-0.6},{"i":13,"j":17,"v":-1.2},{"i":14,"j":17,"v":-1.6},{"i":15,"j":17,"v":-2},{"i":16,"j":17,"v":-2.3},
{"i":0,"j":18,"v":-3},{"i":1,"j":18,"v":-2.7},{"i":2,"j":18,"v":-2.1},{"i":3,"j":18,"v":-1.5},{"i":4,"j":18,"v":-0.9},{"i":5,"j":18,"v":-0.3},{"i":6,"j":18,"v":0.9},{"i":7,"j":18,"v":3.1},{"i":8,"j":18,"v":4.3},{"i":9,"j":18,"v":3.1},{"i":10,"j":18,"v":0.9},{"i":11,"j":18,"v":-0.3},{"i":12,"j":18,"v":-0.9},{"i":13,"j":18,"v":-1.5},{"i":14,"j":18,"v":-2.1},{"i":15,"j":18,"v":-2.7},{"i":16,"j":18,"v":-3.2}],
"hf":[
{"i":0,"j":0,"v":-2.6},{"i":1,"j":0,"v":-2.4},{"i":2,"j":0,"v":-2},{"i":3,"j":0,"v":-1.6},{"i":4,"j":0,"v":-1.1},{"i":5,"j":0,"v":-0.4},{"i":6,"j":0,"v":0.5},{"i":7,"j":0,"v":3.4},{"i":8,"j":0,"v":4.4},{"i":9,"j":0,"v":3.4},{"i":10,"j":0,"v":0.5},{"i":11,"j":0,"v":-0.4},{"i":12,"j":0,"v":-1.1},{"i":13,"j":0,"v":-1.6},{"i":14,"j":0,"v":-2},{"i":15,"j":0,"v":-2.4},{"i":16,"j":0,"v":-2.6},
{"i":0,"j":1,"v":-2.2},{"i":1,"j":1,"v":-2.1},{"i":2,"j":1,"v":-1.7},{"i":3,"j":1,"v":-1.3},{"i":4,"j":1,"v":-0.8},{"i":5,"j":1,"v":-0.1},{"i":6,"j":1,"v":0.8},{"i":7,"j":1,"v":3.7},{"i":8,"j":1,"v":5.1},{"i":9,"j":1,"v":3.7},{"i":10,"j":1,"v":0.8},{"i":11,"j":1,"v":-0.1},{"i":12,"j":1,"v":-0.8},{"i":13,"j":1,"v":-1.3},{"i":14,"j":1,"v":-1.7},{"i":15,"j":1,"v":-2.1},{"i":16,"j":1,"v":-2.2},
{"i":0,"j":2,"v":-1.6},{"i":1,"j":2,"v":-1.5},{"i":2,"j":2,"v":-1.2},{"i":3,"j":2,"v":-0.9},{"i":4,"j":2,"v":-0.4},{"i":5,"j":2,"v":0.5},{"i":6,"j":2,"v":1.3},{"i":7,"j":2,"v":3.9},{"i":8,"j":2,"v":5.7},{"i":9,"j":2,"v":3.9},{"i":10,"j":2,"v":1.3},{"i":11,"j":2,"v":0.5},{"i":12,"j":2,"v":-0.4},{"i":13,"j":2,"v":-0.9},{"i":14,"j":2,"v":-1.2},{"i":15,"j":2,"v":-1.5},{"i":16,"j":2,"v":-1.6},
{"i":0,"j":3,"v":-1},{"i":1,"j":3,"v":-0.9},{"i":2,"j":3,"v":-0.7},{"i":3,"j":3,"v":-0.5},{"i":4,"j":3,"v":0},{"i":5,"j":3,"v":0.9},{"i":6,"j":3,"v":1.7},{"i":7,"j":3,"v":4.1},{"i":8,"j":3,"v":6.3},{"i":9,"j":3,"v":4.1},{"i":10,"j":3,"v":1.7},{"i":11,"j":3,"v":0.9},{"i":12,"j":3,"v":0},{"i":13,"j":3,"v":-0.5},{"i":14,"j":3,"v":-0.7},{"i":15,"j":3,"v":-0.9},{"i":16,"j":3,"v":-1},
{"i":0,"j":4,"v":-0.6},{"i":1,"j":4,"v":-0.5},{"i":2,"j":4,"v":-0.4},{"i":3,"j":4,"v":-0.1},{"i":4,"j":4,"v":0.6},{"i":5,"j":4,"v":1.3},{"i":6,"j":4,"v":2.2},{"i":7,"j":4,"v":4.3},{"i":8,"j":4,"v":6.6},{"i":9,"j":4,"v":4.3},{"i":10,"j":4,"v":2.2},{"i":11,"j":4,"v":1.3},{"i":12,"j":4,"v":0.6},{"i":13,"j":4,"v":-0.1},{"i":14,"j":4,"v":-0.4},{"i":15,"j":4,"v":-0.5},{"i":16,"j":4,"v":-0.6},
{"i":0,"j":5,"v":-0.4},{"i":1,"j":5,"v":-0.3},{"i":2,"j":5,"v":-0.1},{"i":3,"j":5,"v":0.2},{"i":4,"j":5,"v":0.9},{"i":5,"j":5,"v":1.6},{"i":6,"j":5,"v":2.5},{"i":7,"j":5,"v":4.4},{"i":8,"j":5,"v":6.8},{"i":9,"j":5,"v":4.4},{"i":10,"j":5,"v":2.5},{"i":11,"j":5,"v":1.6},{"i":12,"j":5,"v":0.9},{"i":13,"j":5,"v":0.2},{"i":14,"j":5,"v":-0.1},{"i":15,"j":5,"v":-0.3},{"i":16,"j":5,"v":-0.4},
{"i":0,"j":6,"v":-0.3},{"i":1,"j":6,"v":-0.2},{"i":2,"j":6,"v":0.1},{"i":3,"j":6,"v":0.6},{"i":4,"j":6,"v":1.2},{"i":5,"j":6,"v":1.9},{"i":6,"j":6,"v":2.8},{"i":7,"j":6,"v":4.6},{"i":8,"j":6,"v":6.9},{"i":9,"j":6,"v":4.6},{"i":10,"j":6,"v":2.8},{"i":11,"j":6,"v":1.9},{"i":12,"j":6,"v":1.2},{"i":13,"j":6,"v":0.6},{"i":14,"j":6,"v":0.1},{"i":15,"j":6,"v":-0.2},{"i":16,"j":6,"v":-0.3},
{"i":0,"j":7,"v":-0.2},{"i":1,"j":7,"v":0},{"i":2,"j":7,"v":0.3},{"i":3,"j":7,"v":0.9},{"i":4,"j":7,"v":1.5},{"i":5,"j":7,"v":2.1},{"i":6,"j":7,"v":3.1},{"i":7,"j":7,"v":4.9},{"i":8,"j":7,"v":7.1},{"i":9,"j":7,"v":4.9},{"i":10,"j":7,"v":3.1},{"i":11,"j":7,"v":2.1},{"i":12,"j":7,"v":1.5},{"i":13,"j":7,"v":0.9},{"i":14,"j":7,"v":0.3},{"i":15,"j":7,"v":0},{"i":16,"j":7,"v":-0.2},
{"i":0,"j":8,"v":0},{"i":1,"j":8,"v":0.1},{"i":2,"j":8,"v":0.5},{"i":3,"j":8,"v":1.1},{"i":4,"j":8,"v":1.7},{"i":5,"j":8,"v":2.4},{"i":6,"j":8,"v":3.5},{"i":7,"j":8,"v":5.9},{"i":8,"j":8,"v":7.8},{"i":9,"j":8,"v":5.9},{"i":10,"j":8,"v":3.5},{"i":11,"j":8,"v":2.4},{"i":12,"j":8,"v":1.7},{"i":13,"j":8,"v":1.1},{"i":14,"j":8,"v":0.5},{"i":15,"j":8,"v":0.1},{"i":16,"j":8,"v":0},
{"i":0,"j":9,"v":0.2},{"i":1,"j":9,"v":0.4},{"i":2,"j":9,"v":0.8},{"i":3,"j":9,"v":1.3},{"i":4,"j":9,"v":2},{"i":5,"j":9,"v":2.7},{"i":6,"j":9,"v":4},{"i":7,"j":9,"v":6.9},{"i":8,"j":9,"v":8.1},{"i":9,"j":9,"v":6.9},{"i":10,"j":9,"v":4},{"i":11,"j":9,"v":2.7},{"i":12,"j":9,"v":2},{"i":13,"j":9,"v":1.3},{"i":14,"j":9,"v":0.8},{"i":15,"j":9,"v":0.4},{"i":16,"j":9,"v":0.2},
{"i":0,"j":10,"v":0},{"i":1,"j":10,"v":0.1},{"i":2,"j":10,"v":0.5},{"i":3,"j":10,"v":1.1},{"i":4,"j":10,"v":1.7},{"i":5,"j":10,"v":2.4},{"i":6,"j":10,"v":3.5},{"i":7,"j":10,"v":5.9},{"i":8,"j":10,"v":7.8},{"i":9,"j":10,"v":5.9},{"i":10,"j":10,"v":3.5},{"i":11,"j":10,"v":2.4},{"i":12,"j":10,"v":1.7},{"i":13,"j":10,"v":1.1},{"i":14,"j":10,"v":0.5},{"i":15,"j":10,"v":0.1},{"i":16,"j":10,"v":0},
{"i":0,"j":11,"v":-0.2},{"i":1,"j":11,"v":0},{"i":2,"j":11,"v":0.3},{"i":3,"j":11,"v":0.9},{"i":4,"j":11,"v":1.5},{"i":5,"j":11,"v":2.1},{"i":6,"j":11,"v":3.1},{"i":7,"j":11,"v":4.9},{"i":8,"j":11,"v":7.1},{"i":9,"j":11,"v":4.9},{"i":10,"j":11,"v":3.1},{"i":11,"j":11,"v":2.1},{"i":12,"j":11,"v":1.5},{"i":13,"j":11,"v":0.9},{"i":14,"j":11,"v":0.3},{"i":15,"j":11,"v":0},{"i":16,"j":11,"v":-0.2},
{"i":0,"j":12,"v":-0.3},{"i":1,"j":12,"v":-0.2},{"i":2,"j":12,"v":0.1},{"i":3,"j":12,"v":0.6},{"i":4,"j":12,"v":1.2},{"i":5,"j":12,"v":1.9},{"i":6,"j":12,"v":2.8},{"i":7,"j":12,"v":4.6},{"i":8,"j":12,"v":6.9},{"i":9,"j":12,"v":4.6},{"i":10,"j":12,"v":2.8},{"i":11,"j":12,"v":1.9},{"i":12,"j":12,"v":1.2},{"i":13,"j":12,"v":0.6},{"i":14,"j":12,"v":0.1},{"i":15,"j":12,"v":-0.2},{"i":16,"j":12,"v":-0.3},
{"i":0,"j":13,"v":-0.4},{"i":1,"j":13,"v":-0.3},{"i":2,"j":13,"v":-0.1},{"i":3,"j":13,"v":0.2},{"i":4,"j":13,"v":0.9},{"i":5,"j":13,"v":1.6},{"i":6,"j":13,"v":2.5},{"i":7,"j":13,"v":4.4},{"i":8,"j":13,"v":6.8},{"i":9,"j":13,"v":4.4},{"i":10,"j":13,"v":2.5},{"i":11,"j":13,"v":1.6},{"i":12,"j":13,"v":0.9},{"i":13,"j":13,"v":0.2},{"i":14,"j":13,"v":-0.1},{"i":15,"j":13,"v":-0.3},{"i":16,"j":13,"v":-0.4},
{"i":0,"j":14,"v":-0.5},{"i":1,"j":14,"v":-0.4},{"i":2,"j":14,"v":-0.3},{"i":3,"j":14,"v":-0.1},{"i":4,"j":14,"v":0.6},{"i":5,"j":14,"v":1.3},{"i":6,"j":14,"v":2.2},{"i":7,"j":14,"v":4.3},{"i":8,"j":14,"v":6.6},{"i":9,"j":14,"v":4.3},{"i":10,"j":14,"v":2.2},{"i":11,"j":14,"v":1.3},{"i":12,"j":14,"v":0.6},{"i":13,"j":14,"v":-0.1},{"i":14,"j":14,"v":-0.3},{"i":15,"j":14,"v":-0.4},{"i":16,"j":14,"v":-0.5},
{"i":0,"j":15,"v":-0.7},{"i":1,"j":15,"v":-0.6},{"i":2,"j":15,"v":-0.5},{"i":3,"j":15,"v":-0.3},{"i":4,"j":15,"v":0},{"i":5,"j":15,"v":0.9},{"i":6,"j":15,"v":1.7},{"i":7,"j":15,"v":4.1},{"i":8,"j":15,"v":6.3},{"i":9,"j":15,"v":4.1},{"i":10,"j":15,"v":1.7},{"i":11,"j":15,"v":0.9},{"i":12,"j":15,"v":0},{"i":13,"j":15,"v":-0.3},{"i":14,"j":15,"v":-0.5},{"i":15,"j":15,"v":-0.6},{"i":16,"j":15,"v":-0.7},
{"i":0,"j":16,"v":-1.2},{"i":1,"j":16,"v":-1.1},{"i":2,"j":16,"v":-0.9},{"i":3,"j":16,"v":-0.7},{"i":4,"j":16,"v":-0.4},{"i":5,"j":16,"v":0.5},{"i":6,"j":16,"v":1.3},{"i":7,"j":16,"v":3.9},{"i":8,"j":16,"v":5.7},{"i":9,"j":16,"v":3.9},{"i":10,"j":16,"v":1.3},{"i":11,"j":16,"v":0.5},{"i":12,"j":16,"v":-0.4},{"i":13,"j":16,"v":-0.7},{"i":14,"j":16,"v":-0.9},{"i":15,"j":16,"v":-1.1},{"i":16,"j":16,"v":-1.2},
{"i":0,"j":17,"v":-2},{"i":1,"j":17,"v":-1.9},{"i":2,"j":17,"v":-1.5},{"i":3,"j":17,"v":-1.1},{"i":4,"j":17,"v":-0.8},{"i":5,"j":17,"v":-0.1},{"i":6,"j":17,"v":0.8},{"i":7,"j":17,"v":3.7},{"i":8,"j":17,"v":5.1},{"i":9,"j":17,"v":3.7},{"i":10,"j":17,"v":0.8},{"i":11,"j":17,"v":-0.1},{"i":12,"j":17,"v":-0.8},{"i":13,"j":17,"v":-1.1},{"i":14,"j":17,"v":-1.5},{"i":15,"j":17,"v":-1.9},{"i":16,"j":17,"v":-2},
{"i":0,"j":18,"v":-2.6},{"i":1,"j":18,"v":-2.4},{"i":2,"j":18,"v":-2},{"i":3,"j":18,"v":-1.6},{"i":4,"j":18,"v":-1.1},{"i":5,"j":18,"v":-0.4},{"i":6,"j":18,"v":0.5},{"i":7,"j":18,"v":3.4},{"i":8,"j":18,"v":4.4},{"i":9,"j":18,"v":3.4},{"i":10,"j":18,"v":0.5},{"i":11,"j":18,"v":-0.4},{"i":12,"j":18,"v":-1.1},{"i":13,"j":18,"v":-1.6},{"i":14,"j":18,"v":-2.1},{"i":15,"j":18,"v":-2.6},{"i":16,"j":18,"v":-2.7}]
},
"layer":[
{"layer":[
{"data":{"name":"ha"},"transform":[{"lookup":"i","from":{"data":{"name":"xb"},"key":"i","fields":["x0","x1"]}},{"lookup":"j","from":{"data":{"name":"yb"},"key":"j","fields":["y0","y1"]}}],"mark":{"type":"rect","strokeWidth":0.6},
"encoding":{"x":{"field":"x0","type":"quantitative","scale":{"domain":[-70,70],"range":[169,563],"nice":false,"zero":false},"axis":{"orient":"bottom","title":null,"values":[-60,-40,-20,0,20,40,60],"offset":-567,"labelPadding":11,"labelExpr":"''+datum.value"}},"x2":{"field":"x1"},"y":{"field":"y0","type":"quantitative","scale":{"domain":[-1.29,1.29],"range":[450,57],"nice":false,"zero":false},"axis":{"orient":"left","title":null,"values":[-1,-0.5,0,0.5,1],"offset":-169,"labelPadding":10,"labelExpr":"''+datum.value"}},"y2":{"field":"y1"},
"color":{"field":"v","type":"quantitative","legend":null,"scale":{"domain":[-8,-5.56,-0.69,4.19,9.06,11.5],"range":["#00008f","#0000ff","#00ffff","#ffff00","#ff0000","#800000"],"interpolate":"rgb"}},
"stroke":{"field":"v","type":"quantitative","legend":null,"scale":{"domain":[-8,-5.56,-0.69,4.19,9.06,11.5],"range":["#00008f","#0000ff","#00ffff","#ffff00","#ff0000","#800000"],"interpolate":"rgb"}}}},
{"data":{"name":"la"},"mark":{"type":"line","color":"#1d3a28","strokeWidth":1.3},"encoding":{"x":{"field":"x","type":"quantitative"},"y":{"field":"y","type":"quantitative"},"detail":{"field":"k"},"order":{"value":null}}},
{"data":{"name":"fr"},"mark":{"type":"rect","fillOpacity":0,"stroke":"#223344","strokeWidth":1.3},"encoding":{"x":{"field":"x0","type":"quantitative"},"x2":{"field":"x1"},"y":{"field":"y0","type":"quantitative"},"y2":{"field":"y1"}}},
{"data":{"values":[{"t":"India","x":2,"y":1.49,"s":50},{"t":"High","x":-113,"y":0.083,"s":43},{"t":"CR","x":-115,"y":-0.245,"s":43},{"t":"Articulation","x":-35,"y":0.037,"s":33},{"t":"Space","x":43.8,"y":0.037,"s":33}]},"mark":{"type":"text","font":"Liberation Serif","fontWeight":"bold","color":"black"},"encoding":{"x":{"field":"x","type":"quantitative"},"y":{"field":"y","type":"quantitative"},"text":{"field":"t"},"size":{"field":"s","type":"quantitative","scale":null}}}
]},
{"layer":[
{"data":{"name":"hb"},"transform":[{"lookup":"i","from":{"data":{"name":"xb"},"key":"i","fields":["x0","x1"]}},{"lookup":"j","from":{"data":{"name":"yb"},"key":"j","fields":["y0","y1"]}}],"mark":{"type":"rect","strokeWidth":0.6},
"encoding":{"x":{"field":"x0","type":"quantitative","scale":{"domain":[-70,70],"range":[621,1018],"nice":false,"zero":false},"axis":{"orient":"bottom","title":null,"values":[-60,-40,-20,0,20,40,60],"offset":-560,"labelPadding":11,"labelExpr":"''+datum.value"}},"x2":{"field":"x1"},"y":{"field":"y0","type":"quantitative","scale":{"domain":[-1.29,1.29],"range":[457,62],"nice":false,"zero":false},"axis":{"orient":"left","title":null,"values":[-1,-0.5,0,0.5,1],"offset":-621,"labelPadding":10,"labelExpr":"''+datum.value"}},"y2":{"field":"y1"},"color":{"field":"v","type":"quantitative","legend":null},"stroke":{"field":"v","type":"quantitative","legend":null}}},
{"data":{"name":"lb"},"mark":{"type":"line","color":"#1d3a28","strokeWidth":1.3},"encoding":{"x":{"field":"x","type":"quantitative"},"y":{"field":"y","type":"quantitative"},"detail":{"field":"k"},"order":{"value":null}}},
{"data":{"name":"fr"},"mark":{"type":"rect","fillOpacity":0,"stroke":"#223344","strokeWidth":1.3},"encoding":{"x":{"field":"x0","type":"quantitative"},"x2":{"field":"x1"},"y":{"field":"y0","type":"quantitative"},"y2":{"field":"y1"}}},
{"data":{"values":[{"t":"Italy","x":3.5,"y":1.523,"s":50}]},"mark":{"type":"text","font":"Liberation Serif","fontWeight":"bold","color":"black"},"encoding":{"x":{"field":"x","type":"quantitative"},"y":{"field":"y","type":"quantitative"},"text":{"field":"t"},"size":{"field":"s","type":"quantitative","scale":null}}}
]},
{"layer":[
{"data":{"name":"hc"},"transform":[{"lookup":"i","from":{"data":{"name":"xb"},"key":"i","fields":["x0","x1"]}},{"lookup":"j","from":{"data":{"name":"yb"},"key":"j","fields":["y0","y1"]}}],"mark":{"type":"rect","strokeWidth":0.6},
"encoding":{"x":{"field":"x0","type":"quantitative","scale":{"domain":[-70,70],"range":[1064,1453],"nice":false,"zero":false},"axis":{"orient":"bottom","title":null,"values":[-60,-40,-20,0,20,40,60],"offset":-563,"labelPadding":11,"labelExpr":"''+datum.value"}},"x2":{"field":"x1"},"y":{"field":"y0","type":"quantitative","scale":{"domain":[-1.29,1.29],"range":[454,66],"nice":false,"zero":false},"axis":{"orient":"left","title":null,"values":[-1,-0.5,0,0.5,1],"offset":-1064,"labelPadding":10,"labelExpr":"''+datum.value"}},"y2":{"field":"y1"},"color":{"field":"v","type":"quantitative","legend":null},"stroke":{"field":"v","type":"quantitative","legend":null}}},
{"data":{"name":"lc"},"mark":{"type":"line","color":"#1d3a28","strokeWidth":1.3},"encoding":{"x":{"field":"x","type":"quantitative"},"y":{"field":"y","type":"quantitative"},"detail":{"field":"k"},"order":{"value":null}}},
{"data":{"name":"fr"},"mark":{"type":"rect","fillOpacity":0,"stroke":"#223344","strokeWidth":1.3},"encoding":{"x":{"field":"x0","type":"quantitative"},"x2":{"field":"x1"},"y":{"field":"y0","type":"quantitative"},"y2":{"field":"y1"}}},
{"data":{"values":[{"t":"UK","x":-3.4,"y":1.553,"s":50}]},"mark":{"type":"text","font":"Liberation Serif","fontWeight":"bold","color":"black"},"encoding":{"x":{"field":"x","type":"quantitative"},"y":{"field":"y","type":"quantitative"},"text":{"field":"t"},"size":{"field":"s","type":"quantitative","scale":null}}}
]},
{"layer":[
{"data":{"name":"hd"},"transform":[{"lookup":"i","from":{"data":{"name":"xb"},"key":"i","fields":["x0","x1"]}},{"lookup":"j","from":{"data":{"name":"yb"},"key":"j","fields":["y0","y1"]}}],"mark":{"type":"rect","strokeWidth":0.6},
"encoding":{"x":{"field":"x0","type":"quantitative","scale":{"domain":[-70,70],"range":[182,576],"nice":false,"zero":false},"axis":{"orient":"bottom","values":[-60,-40,-20,0,20,40,60],"offset":-86,"labelPadding":11,"labelExpr":"''+datum.value","title":"Temporal Modulations (Hz)","titleFont":"Liberation Serif","titleFontSize":43,"titleFontWeight":"bold","titleColor":"black","titleX":506,"titleY":59,"titleAlign":"center","titleBaseline":"middle"}},"x2":{"field":"x1"},"y":{"field":"y0","type":"quantitative","scale":{"domain":[-1.29,1.29],"range":[931,537],"nice":false,"zero":false},"axis":{"orient":"left","values":[-1,-0.5,0,0.5,1],"offset":-182,"labelPadding":10,"labelExpr":"''+datum.value","title":"Spectral Modulations (Cycles/kHz)","titleFont":"Liberation Serif","titleFontSize":43,"titleFontWeight":"bold","titleColor":"black","titleX":-62,"titleY":616,"titleAngle":270,"titleAlign":"center","titleBaseline":"middle"}},"y2":{"field":"y1"},"color":{"field":"v","type":"quantitative","legend":null},"stroke":{"field":"v","type":"quantitative","legend":null}}},
{"data":{"name":"ld"},"mark":{"type":"line","color":"#1d3a28","strokeWidth":1.3},"encoding":{"x":{"field":"x","type":"quantitative"},"y":{"field":"y","type":"quantitative"},"order":{"value":null}}},
{"data":{"name":"fr"},"mark":{"type":"rect","fillOpacity":0,"stroke":"#223344","strokeWidth":1.3},"encoding":{"x":{"field":"x0","type":"quantitative"},"x2":{"field":"x1"},"y":{"field":"y0","type":"quantitative"},"y2":{"field":"y1"}}},
{"data":{"values":[{"t":"Low","x":-120,"y":0.169,"s":43},{"t":"CR","x":-120,"y":-0.166,"s":43}]},"mark":{"type":"text","font":"Liberation Serif","fontWeight":"bold","color":"black"},"encoding":{"x":{"field":"x","type":"quantitative"},"y":{"field":"y","type":"quantitative"},"text":{"field":"t"},"size":{"field":"s","type":"quantitative","scale":null}}}
]},
{"layer":[
{"data":{"name":"he"},"transform":[{"lookup":"i","from":{"data":{"name":"xb"},"key":"i","fields":["x0","x1"]}},{"lookup":"j","from":{"data":{"name":"yb"},"key":"j","fields":["y0","y1"]}}],"mark":{"type":"rect","strokeWidth":0.6},
"encoding":{"x":{"field":"x0","type":"quantitative","scale":{"domain":[-70,70],"range":[627,1029],"nice":false,"zero":false},"axis":{"orient":"bottom","title":null,"values":[-60,-40,-20,0,20,40,60],"offset":-83,"labelPadding":11,"labelExpr":"''+datum.value"}},"x2":{"field":"x1"},"y":{"field":"y0","type":"quantitative","scale":{"domain":[-1.29,1.29],"range":[934,533],"nice":false,"zero":false},"axis":{"orient":"left","title":null,"values":[-1,-0.5,0,0.5,1],"offset":-627,"labelPadding":10,"labelExpr":"''+datum.value"}},"y2":{"field":"y1"},"color":{"field":"v","type":"quantitative","legend":null},"stroke":{"field":"v","type":"quantitative","legend":null}}},
{"data":{"name":"le"},"mark":{"type":"line","color":"#1d3a28","strokeWidth":1.3},"encoding":{"x":{"field":"x","type":"quantitative"},"y":{"field":"y","type":"quantitative"},"order":{"value":null}}},
{"data":{"name":"fr"},"mark":{"type":"rect","fillOpacity":0,"stroke":"#223344","strokeWidth":1.3},"encoding":{"x":{"field":"x0","type":"quantitative"},"x2":{"field":"x1"},"y":{"field":"y0","type":"quantitative"},"y2":{"field":"y1"}}}
]},
{"layer":[
{"data":{"name":"hf"},"transform":[{"lookup":"i","from":{"data":{"name":"xb"},"key":"i","fields":["x0","x1"]}},{"lookup":"j","from":{"data":{"name":"yb"},"key":"j","fields":["y0","y1"]}}],"mark":{"type":"rect","strokeWidth":0.6},
"encoding":{"x":{"field":"x0","type":"quantitative","scale":{"domain":[-70,70],"range":[1067,1447],"nice":false,"zero":false},"axis":{"orient":"bottom","title":null,"values":[-60,-40,-20,0,20,40,60],"offset":-89,"labelPadding":11,"labelExpr":"''+datum.value"}},"x2":{"field":"x1"},"y":{"field":"y0","type":"quantitative","scale":{"domain":[-1.29,1.29],"range":[928,534],"nice":false,"zero":false},"axis":{"orient":"left","title":null,"values":[-1,-0.5,0,0.5,1],"offset":-1067,"labelPadding":10,"labelExpr":"''+datum.value"}},"y2":{"field":"y1"},"color":{"field":"v","type":"quantitative","legend":null},"stroke":{"field":"v","type":"quantitative","legend":null}}},
{"data":{"name":"lf"},"mark":{"type":"line","color":"#1d3a28","strokeWidth":1.3},"encoding":{"x":{"field":"x","type":"quantitative"},"y":{"field":"y","type":"quantitative"},"order":{"value":null}}},
{"data":{"name":"fr"},"mark":{"type":"rect","fillOpacity":0,"stroke":"#223344","strokeWidth":1.3},"encoding":{"x":{"field":"x0","type":"quantitative"},"x2":{"field":"x1"},"y":{"field":"y0","type":"quantitative"},"y2":{"field":"y1"}}}
]},
{"layer":[
{"data":{"name":"cb"},"mark":{"type":"rect"},"encoding":{"x":{"datum":0,"type":"quantitative","scale":{"domain":[0,1],"range":[1477,1508]},"axis":null},"x2":{"datum":1},"y":{"field":"a","type":"quantitative","scale":{"domain":[-8,11.5],"range":[456,65],"nice":false,"zero":false},"axis":{"title":null,"orient":"right","values":[-8,-6,-4,-2,0,2,4,6,8,10],"offset":-27,"labelExpr":"''+datum.value","labelPadding":8,"labelFontSize":18}},"y2":{"field":"b"},"color":{"field":"v","type":"quantitative","legend":null}}},
{"data":{"name":"cf"},"mark":{"type":"rect","fillOpacity":0,"stroke":"#223344","strokeWidth":1.3},"encoding":{"x":{"field":"x0","type":"quantitative"},"x2":{"field":"x1"},"y":{"field":"a","type":"quantitative"},"y2":{"field":"b"}}}
]},
{"layer":[
{"data":{"name":"cb"},"mark":{"type":"rect"},"encoding":{"x":{"datum":0,"type":"quantitative","scale":{"domain":[0,1],"range":[1470,1502]},"axis":null},"x2":{"datum":1},"y":{"field":"a","type":"quantitative","scale":{"domain":[-8,11.5],"range":[930,534],"nice":false,"zero":false},"axis":{"title":null,"orient":"right","values":[-8,-6,-4,-2,0,2,4,6,8,10],"offset":-33,"labelExpr":"''+datum.value","labelPadding":8,"labelFontSize":18}},"y2":{"field":"b"},"color":{"field":"v","type":"quantitative","legend":null}}},
{"data":{"name":"cf"},"mark":{"type":"rect","fillOpacity":0,"stroke":"#223344","strokeWidth":1.3},"encoding":{"x":{"field":"x0","type":"quantitative"},"x2":{"field":"x1"},"y":{"field":"a","type":"quantitative"},"y2":{"field":"b"}}}
]}
],
"resolve":{"scale":{"x":"independent","y":"independent"},"axis":{"x":"independent","y":"independent"}}
}
